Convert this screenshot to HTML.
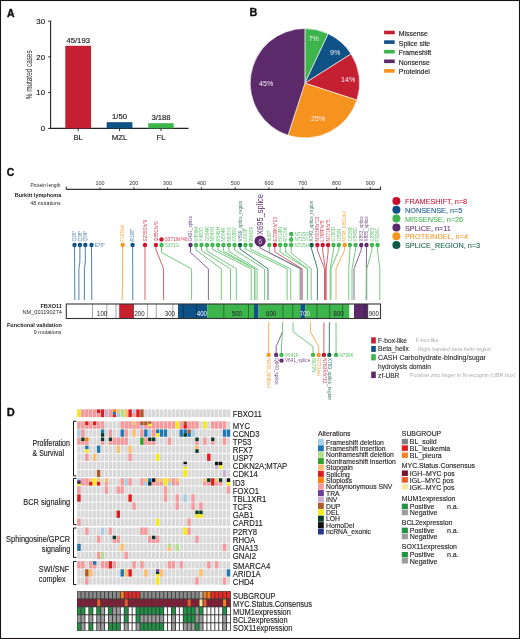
<!DOCTYPE html>
<html><head><meta charset="utf-8"><title>FBXO11 figure</title>
<style>
html,body{margin:0;padding:0;background:#fff;}
body{width:520px;height:639px;overflow:hidden;}
svg{display:block;font-family:"Liberation Sans", sans-serif;will-change:transform;}
</style></head><body>
<svg width="520" height="639" viewBox="0 0 520 639">
<rect x="0" y="0" width="520" height="639" fill="#fff"/>
<text x="7.10" y="16.68" font-size="11.400" fill="#111" font-weight="bold" transform="translate(7.10 0) scale(0.9200 1) translate(-7.10 0)" stroke="#111" stroke-width="0.45">A</text>
<line x1="50.60" y1="20.82" x2="50.60" y2="128.90" stroke="#222" stroke-width="1.1"/>
<line x1="50.10" y1="128.40" x2="188.50" y2="128.40" stroke="#222" stroke-width="1.1"/>
<line x1="48.20" y1="128.40" x2="50.60" y2="128.40" stroke="#222" stroke-width="1"/>
<text x="45.00" y="131.19" font-size="7.800" text-anchor="end" fill="#231f20" stroke="#231f20" stroke-width="0.18">0</text>
<line x1="48.20" y1="92.64" x2="50.60" y2="92.64" stroke="#222" stroke-width="1"/>
<text x="45.00" y="95.43" font-size="7.800" text-anchor="end" fill="#231f20" stroke="#231f20" stroke-width="0.18">10</text>
<line x1="48.20" y1="56.88" x2="50.60" y2="56.88" stroke="#222" stroke-width="1"/>
<text x="45.00" y="59.67" font-size="7.800" text-anchor="end" fill="#231f20" stroke="#231f20" stroke-width="0.18">20</text>
<line x1="48.20" y1="21.12" x2="50.60" y2="21.12" stroke="#222" stroke-width="1"/>
<text x="45.00" y="23.91" font-size="7.800" text-anchor="end" fill="#231f20" stroke="#231f20" stroke-width="0.18">30</text>
<rect x="65.30" y="45.79" width="25.80" height="82.61" fill="#c42032"/>
<line x1="78.20" y1="128.40" x2="78.20" y2="131.20" stroke="#222" stroke-width="0.9"/>
<text x="78.20" y="42.95" font-size="7.700" text-anchor="middle" fill="#231f20" stroke="#231f20" stroke-width="0.18">45/193</text>
<text x="78.20" y="139.89" font-size="7.800" text-anchor="middle" fill="#231f20" stroke="#231f20" stroke-width="0.18">BL</text>
<rect x="106.70" y="122.18" width="25.70" height="6.22" fill="#0f5286"/>
<line x1="119.50" y1="128.40" x2="119.50" y2="131.20" stroke="#222" stroke-width="0.9"/>
<text x="119.50" y="119.33" font-size="7.700" text-anchor="middle" fill="#231f20" stroke="#231f20" stroke-width="0.18">1/50</text>
<text x="119.50" y="139.89" font-size="7.800" text-anchor="middle" fill="#231f20" stroke="#231f20" stroke-width="0.18">MZL</text>
<rect x="148.20" y="123.21" width="25.50" height="5.19" fill="#3db44c"/>
<line x1="161.00" y1="128.40" x2="161.00" y2="131.20" stroke="#222" stroke-width="0.9"/>
<text x="161.00" y="120.37" font-size="7.700" text-anchor="middle" fill="#231f20" stroke="#231f20" stroke-width="0.18">3/188</text>
<text x="161.00" y="139.89" font-size="7.800" text-anchor="middle" fill="#231f20" stroke="#231f20" stroke-width="0.18">FL</text>
<text x="32.00" y="74.80" font-size="8.600" text-anchor="middle" fill="#231f20" transform="rotate(-90 32.00 74.80)" textLength="48.8" lengthAdjust="spacingAndGlyphs">% mutated cases</text>
<text x="249.60" y="16.48" font-size="11.400" fill="#111" font-weight="bold" transform="translate(249.60 0) scale(0.9500 1) translate(-249.60 0)" stroke="#111" stroke-width="0.35">B</text>
<path d="M304.9,83.2 L304.90,28.50 A54.7,54.7 0 0 1 328.19,33.71 Z" fill="#3db44c" stroke="#fff" stroke-width="0.6" stroke-linejoin="round"/>
<path d="M304.9,83.2 L328.19,33.71 A54.7,54.7 0 0 1 351.08,53.89 Z" fill="#0f5286" stroke="#fff" stroke-width="0.6" stroke-linejoin="round"/>
<path d="M304.9,83.2 L351.08,53.89 A54.7,54.7 0 0 1 356.92,100.10 Z" fill="#c42032" stroke="#fff" stroke-width="0.6" stroke-linejoin="round"/>
<path d="M304.9,83.2 L356.92,100.10 A54.7,54.7 0 0 1 288.00,135.22 Z" fill="#f6921e" stroke="#fff" stroke-width="0.6" stroke-linejoin="round"/>
<path d="M304.9,83.2 L288.00,135.22 A54.7,54.7 0 0 1 304.90,28.50 Z" fill="#5c2a6a" stroke="#fff" stroke-width="0.6" stroke-linejoin="round"/>
<text x="313.80" y="40.65" font-size="7.668" text-anchor="middle" fill="#f6f2f6" transform="translate(313.80 0) scale(0.9259 1) translate(-313.80 0)" stroke="none">7%</text>
<text x="335.20" y="54.65" font-size="7.668" text-anchor="middle" fill="#f6f2f6" transform="translate(335.20 0) scale(0.9259 1) translate(-335.20 0)" stroke="none">9%</text>
<text x="348.20" y="81.95" font-size="7.668" text-anchor="middle" fill="#f6f2f6" transform="translate(348.20 0) scale(0.9259 1) translate(-348.20 0)" stroke="none">14%</text>
<text x="318.20" y="121.15" font-size="7.668" text-anchor="middle" fill="#f6f2f6" transform="translate(318.20 0) scale(0.9259 1) translate(-318.20 0)" stroke="none">25%</text>
<text x="266.20" y="86.45" font-size="7.668" text-anchor="middle" fill="#f6f2f6" transform="translate(266.20 0) scale(0.9259 1) translate(-266.20 0)" stroke="none">45%</text>
<rect x="384.10" y="30.70" width="10.60" height="3.60" fill="#c42032"/>
<text x="398.80" y="36.02" font-size="7.866" fill="#231f20" transform="translate(398.80 0) scale(0.8772 1) translate(-398.80 0)" stroke="#231f20" stroke-width="0.18">Missense</text>
<rect x="384.10" y="40.30" width="10.60" height="3.60" fill="#0f5286"/>
<text x="398.80" y="45.62" font-size="7.866" fill="#231f20" transform="translate(398.80 0) scale(0.8772 1) translate(-398.80 0)" stroke="#231f20" stroke-width="0.18">Splice site</text>
<rect x="384.10" y="49.90" width="10.60" height="3.60" fill="#3db44c"/>
<text x="398.80" y="55.22" font-size="7.866" fill="#231f20" transform="translate(398.80 0) scale(0.8772 1) translate(-398.80 0)" stroke="#231f20" stroke-width="0.18">Frameshift</text>
<rect x="384.10" y="59.50" width="10.60" height="3.60" fill="#5c2a6a"/>
<text x="398.80" y="64.82" font-size="7.866" fill="#231f20" transform="translate(398.80 0) scale(0.8772 1) translate(-398.80 0)" stroke="#231f20" stroke-width="0.18">Nonsense</text>
<rect x="384.10" y="69.10" width="10.60" height="3.60" fill="#f6921e"/>
<text x="398.80" y="74.42" font-size="7.866" fill="#231f20" transform="translate(398.80 0) scale(0.8772 1) translate(-398.80 0)" stroke="#231f20" stroke-width="0.18">Proteindel</text>
<text x="6.80" y="176.35" font-size="11.600" fill="#111" font-weight="bold" transform="translate(6.80 0) scale(0.9000 1) translate(-6.80 0)" stroke="#111" stroke-width="0.4">C</text>
<text x="60.60" y="187.29" font-size="5.292" text-anchor="end" fill="#2a2a2a" transform="translate(60.60 0) scale(0.9259 1) translate(-60.60 0)">Protein length</text>
<line x1="66.30" y1="189.40" x2="380.60" y2="189.40" stroke="#333" stroke-width="1.1"/>
<line x1="66.30" y1="186.40" x2="66.30" y2="189.90" stroke="#333" stroke-width="1.0"/>
<line x1="380.60" y1="186.40" x2="380.60" y2="189.90" stroke="#333" stroke-width="1.0"/>
<line x1="100.07" y1="187.20" x2="100.07" y2="189.40" stroke="#333" stroke-width="0.9"/>
<text x="100.07" y="185.23" font-size="5.400" text-anchor="middle" fill="#333">100</text>
<line x1="133.85" y1="187.20" x2="133.85" y2="189.40" stroke="#333" stroke-width="0.9"/>
<text x="133.85" y="185.23" font-size="5.400" text-anchor="middle" fill="#333">200</text>
<line x1="167.62" y1="187.20" x2="167.62" y2="189.40" stroke="#333" stroke-width="0.9"/>
<text x="167.62" y="185.23" font-size="5.400" text-anchor="middle" fill="#333">300</text>
<line x1="201.40" y1="187.20" x2="201.40" y2="189.40" stroke="#333" stroke-width="0.9"/>
<text x="201.40" y="185.23" font-size="5.400" text-anchor="middle" fill="#333">400</text>
<line x1="235.18" y1="187.20" x2="235.18" y2="189.40" stroke="#333" stroke-width="0.9"/>
<text x="235.18" y="185.23" font-size="5.400" text-anchor="middle" fill="#333">500</text>
<line x1="268.95" y1="187.20" x2="268.95" y2="189.40" stroke="#333" stroke-width="0.9"/>
<text x="268.95" y="185.23" font-size="5.400" text-anchor="middle" fill="#333">600</text>
<line x1="302.72" y1="187.20" x2="302.72" y2="189.40" stroke="#333" stroke-width="0.9"/>
<text x="302.72" y="185.23" font-size="5.400" text-anchor="middle" fill="#333">700</text>
<line x1="336.50" y1="187.20" x2="336.50" y2="189.40" stroke="#333" stroke-width="0.9"/>
<text x="336.50" y="185.23" font-size="5.400" text-anchor="middle" fill="#333">800</text>
<line x1="370.28" y1="187.20" x2="370.28" y2="189.40" stroke="#333" stroke-width="0.9"/>
<text x="370.28" y="185.23" font-size="5.400" text-anchor="middle" fill="#333">900</text>
<text x="61.30" y="197.17" font-size="6.050" text-anchor="end" fill="#222" font-weight="bold" transform="translate(61.30 0) scale(0.9091 1) translate(-61.30 0)">Burkitt lymphoma</text>
<text x="60.60" y="205.09" font-size="5.830" text-anchor="end" fill="#2a2a2a" transform="translate(60.60 0) scale(0.9091 1) translate(-60.60 0)">48 mutations</text>
<path d="M74.50,245.00 L74.80,300.00" fill="none" stroke="#4d82b5" stroke-width="1.0"/>
<path d="M79.90,245.00 L79.90,262.00 L78.90,268.80 L78.90,300.00" fill="none" stroke="#4d82b5" stroke-width="1.0"/>
<path d="M85.30,245.00 L85.30,262.00 L84.40,268.80 L84.40,300.00" fill="none" stroke="#4d82b5" stroke-width="1.0"/>
<path d="M91.50,245.00 L91.80,300.00" fill="none" stroke="#4d82b5" stroke-width="1.0"/>
<path d="M122.70,245.00 L122.30,300.00" fill="none" stroke="#f8ae5a" stroke-width="1.0"/>
<path d="M132.60,245.00 L132.80,300.00" fill="none" stroke="#4d82b5" stroke-width="1.0"/>
<path d="M145.00,245.00 L145.00,300.00" fill="none" stroke="#d9606f" stroke-width="1.0"/>
<path d="M155.90,245.00 L155.90,249.50 L163.60,268.80 L163.60,300.00" fill="none" stroke="#d9606f" stroke-width="1.0"/>
<path d="M161.50,245.00 L161.50,252.50 L191.60,268.80 L191.60,300.00" fill="none" stroke="#74ca7e" stroke-width="1.0"/>
<path d="M190.50,245.00 L190.50,252.50 L208.40,268.80 L208.40,300.00" fill="none" stroke="#8a6498" stroke-width="1.0"/>
<path d="M196.00,245.00 L196.00,250.00 L221.30,268.80 L221.30,300.00" fill="none" stroke="#74ca7e" stroke-width="1.0"/>
<path d="M201.50,245.00 L201.50,250.50 L230.50,268.80 L230.50,300.00" fill="none" stroke="#74ca7e" stroke-width="1.0"/>
<path d="M207.00,245.00 L207.00,251.00 L236.30,268.80 L236.30,300.00" fill="none" stroke="#74ca7e" stroke-width="1.0"/>
<path d="M212.50,245.00 L212.50,249.50 L251.20,268.80 L251.20,300.00" fill="none" stroke="#74ca7e" stroke-width="1.0"/>
<path d="M218.00,245.00 L218.00,250.00 L254.70,268.80 L254.70,300.00" fill="none" stroke="#74ca7e" stroke-width="1.0"/>
<path d="M223.40,245.00 L223.40,251.00 L254.90,268.80 L254.90,300.00" fill="none" stroke="#74ca7e" stroke-width="1.0"/>
<path d="M228.90,245.00 L228.90,251.50 L257.10,268.80 L257.10,300.00" fill="none" stroke="#74ca7e" stroke-width="1.0"/>
<path d="M234.50,245.00 L234.50,250.00 L264.60,268.80 L264.60,300.00" fill="none" stroke="#74ca7e" stroke-width="1.0"/>
<path d="M240.00,245.00 L240.00,249.00 L268.00,268.80 L268.00,300.00" fill="none" stroke="#3f8070" stroke-width="1.0"/>
<path d="M245.40,245.00 L245.40,249.00 L287.10,268.80 L287.10,300.00" fill="none" stroke="#74ca7e" stroke-width="1.0"/>
<path d="M250.90,245.00 L250.90,249.50 L290.80,268.80 L290.80,300.00" fill="none" stroke="#74ca7e" stroke-width="1.0"/>
<path d="M269.30,245.00 L269.30,253.00 L300.00,268.80 L300.00,300.00" fill="none" stroke="#74ca7e" stroke-width="1.0"/>
<path d="M274.90,245.00 L274.90,252.00 L302.20,268.80 L302.20,300.00" fill="none" stroke="#d9606f" stroke-width="1.0"/>
<path d="M280.10,245.00 L280.10,252.00 L307.40,268.80 L307.40,300.00" fill="none" stroke="#74ca7e" stroke-width="1.0"/>
<path d="M285.60,245.00 L285.60,252.50 L307.60,268.80 L307.60,300.00" fill="none" stroke="#74ca7e" stroke-width="1.0"/>
<path d="M291.20,245.00 L291.20,253.00 L311.20,268.80 L311.20,300.00" fill="none" stroke="#74ca7e" stroke-width="1.0"/>
<path d="M311.60,245.00 L311.60,249.00 L317.40,268.80 L317.40,300.00" fill="none" stroke="#3f8070" stroke-width="1.0"/>
<path d="M317.30,245.00 L317.30,250.00 L324.50,268.80 L324.50,300.00" fill="none" stroke="#d9606f" stroke-width="1.0"/>
<path d="M322.70,245.00 L322.70,251.00 L325.40,268.80 L325.40,300.00" fill="none" stroke="#d9606f" stroke-width="1.0"/>
<path d="M328.10,245.00 L328.10,252.00 L326.20,268.80 L326.20,300.00" fill="none" stroke="#d9606f" stroke-width="1.0"/>
<path d="M333.50,245.00 L333.50,250.00 L330.20,268.80 L330.20,300.00" fill="none" stroke="#74ca7e" stroke-width="1.0"/>
<path d="M338.80,245.00 L338.80,250.00 L331.00,268.80 L331.00,300.00" fill="none" stroke="#74ca7e" stroke-width="1.0"/>
<path d="M344.70,245.00 L344.70,250.00 L336.00,268.80 L336.00,300.00" fill="none" stroke="#f8ae5a" stroke-width="1.0"/>
<path d="M349.90,245.00 L349.90,250.00 L348.80,268.80 L348.80,300.00" fill="none" stroke="#74ca7e" stroke-width="1.0"/>
<path d="M355.50,245.00 L355.50,250.00 L352.00,268.80 L352.00,300.00" fill="none" stroke="#74ca7e" stroke-width="1.0"/>
<path d="M361.20,245.00 L361.20,250.00 L354.00,268.80 L354.00,300.00" fill="none" stroke="#8a6498" stroke-width="1.0"/>
<path d="M366.50,245.00 L366.20,300.00" fill="none" stroke="#8a6498" stroke-width="1.0"/>
<path d="M371.90,245.00 L371.90,250.00 L366.80,268.80 L366.80,300.00" fill="none" stroke="#74ca7e" stroke-width="1.0"/>
<path d="M377.60,245.00 L377.60,251.00 L379.80,268.80 L379.80,300.00" fill="none" stroke="#74ca7e" stroke-width="1.0"/>
<path d="M291.2,234.0 L291.2,245.0" stroke="#74ca7e" stroke-width="1.0"/>
<path d="M260.1,241.2 L260.1,248 L301.0,268.8 L301.0,300.0" fill="none" stroke="#8a6498" stroke-width="1.0"/>
<circle cx="74.50" cy="245.00" r="2.20" fill="#0b4f8a"/>
<text x="74.50" y="245.80" font-size="2.400" text-anchor="middle" fill="rgba(255,255,255,0.35)">1</text>
<text x="76.30" y="241.40" font-size="5.250" fill="#4d80b4" transform="rotate(-90 76.30 241.40) translate(76.30 0) scale(0.8800 1) translate(-76.30 0)">Q26*</text>
<circle cx="79.90" cy="245.00" r="2.20" fill="#0b4f8a"/>
<text x="79.90" y="245.80" font-size="2.400" text-anchor="middle" fill="rgba(255,255,255,0.35)">1</text>
<text x="81.70" y="241.40" font-size="5.250" fill="#4d80b4" transform="rotate(-90 81.70 241.40) translate(81.70 0) scale(0.8800 1) translate(-81.70 0)">Q38*</text>
<circle cx="85.30" cy="245.00" r="2.20" fill="#0b4f8a"/>
<text x="85.30" y="245.80" font-size="2.400" text-anchor="middle" fill="rgba(255,255,255,0.35)">1</text>
<text x="87.10" y="241.40" font-size="5.250" fill="#4d80b4" transform="rotate(-90 87.10 241.40) translate(87.10 0) scale(0.8800 1) translate(-87.10 0)">Q54*</text>
<circle cx="91.50" cy="245.00" r="2.20" fill="#0b4f8a"/>
<text x="91.50" y="245.80" font-size="2.400" text-anchor="middle" fill="rgba(255,255,255,0.35)">1</text>
<text x="94.70" y="246.86" font-size="5.200" fill="#4d80b4" transform="translate(94.70 0) scale(0.9000 1) translate(-94.70 0)">E76*</text>
<circle cx="122.70" cy="245.00" r="2.20" fill="#f7941d"/>
<text x="122.70" y="245.80" font-size="2.400" text-anchor="middle" fill="rgba(255,255,255,0.35)">1</text>
<text x="124.50" y="241.40" font-size="5.250" fill="#f7a440" transform="rotate(-90 124.50 241.40) translate(124.50 0) scale(0.8800 1) translate(-124.50 0)">F165del</text>
<circle cx="132.60" cy="245.00" r="2.20" fill="#0b4f8a"/>
<text x="132.60" y="245.80" font-size="2.400" text-anchor="middle" fill="rgba(255,255,255,0.35)">1</text>
<text x="134.40" y="241.40" font-size="5.250" fill="#4d80b4" transform="rotate(-90 134.40 241.40) translate(134.40 0) scale(0.8800 1) translate(-134.40 0)">R198*</text>
<circle cx="145.00" cy="245.00" r="2.20" fill="#c8102e"/>
<text x="145.00" y="245.80" font-size="2.400" text-anchor="middle" fill="rgba(255,255,255,0.35)">1</text>
<text x="146.80" y="241.40" font-size="5.250" fill="#d23a52" transform="rotate(-90 146.80 241.40) translate(146.80 0) scale(0.8800 1) translate(-146.80 0)">S235Sfs*9</text>
<circle cx="155.90" cy="245.00" r="2.20" fill="#c8102e"/>
<text x="155.90" y="245.80" font-size="2.400" text-anchor="middle" fill="rgba(255,255,255,0.35)">1</text>
<text x="157.70" y="241.40" font-size="5.250" fill="#d23a52" transform="rotate(-90 157.70 241.40) translate(157.70 0) scale(0.8800 1) translate(-157.70 0)">I288Cfs*9</text>
<circle cx="161.50" cy="239.40" r="2.20" fill="#c8102e"/>
<text x="161.50" y="240.20" font-size="2.400" text-anchor="middle" fill="rgba(255,255,255,0.35)">1</text>
<text x="164.70" y="241.26" font-size="5.200" fill="#d23a52" transform="translate(164.70 0) scale(0.9000 1) translate(-164.70 0)">S371Ifs*46</text>
<circle cx="161.50" cy="245.00" r="2.20" fill="#3db44c"/>
<text x="161.50" y="245.80" font-size="2.400" text-anchor="middle" fill="rgba(255,255,255,0.35)">1</text>
<text x="164.70" y="246.86" font-size="5.200" fill="#62c26c" transform="translate(164.70 0) scale(0.9000 1) translate(-164.70 0)">S371G</text>
<circle cx="190.50" cy="245.00" r="2.20" fill="#5c2a6a"/>
<text x="190.50" y="245.80" font-size="2.400" text-anchor="middle" fill="rgba(255,255,255,0.35)">1</text>
<text x="192.30" y="241.40" font-size="5.250" fill="#74508a" transform="rotate(-90 192.30 241.40) translate(192.30 0) scale(0.8800 1) translate(-192.30 0)">G421_splice</text>
<circle cx="196.00" cy="245.00" r="2.20" fill="#3db44c"/>
<text x="196.00" y="245.80" font-size="2.400" text-anchor="middle" fill="rgba(255,255,255,0.35)">1</text>
<text x="197.80" y="241.40" font-size="5.250" fill="#62c26c" transform="rotate(-90 197.80 241.40) translate(197.80 0) scale(0.8800 1) translate(-197.80 0)">V459M</text>
<circle cx="201.50" cy="245.00" r="2.20" fill="#3db44c"/>
<text x="201.50" y="245.80" font-size="2.400" text-anchor="middle" fill="rgba(255,255,255,0.35)">1</text>
<text x="203.30" y="241.40" font-size="5.250" fill="#62c26c" transform="rotate(-90 203.30 241.40) translate(203.30 0) scale(0.8800 1) translate(-203.30 0)">Y487D</text>
<circle cx="207.00" cy="245.00" r="2.20" fill="#3db44c"/>
<text x="207.00" y="245.80" font-size="2.400" text-anchor="middle" fill="rgba(255,255,255,0.35)">1</text>
<text x="208.80" y="241.40" font-size="5.250" fill="#62c26c" transform="rotate(-90 208.80 241.40) translate(208.80 0) scale(0.8800 1) translate(-208.80 0)">G504R</text>
<circle cx="212.50" cy="245.00" r="2.20" fill="#3db44c"/>
<text x="212.50" y="245.80" font-size="2.400" text-anchor="middle" fill="rgba(255,255,255,0.35)">1</text>
<text x="214.30" y="241.40" font-size="5.250" fill="#62c26c" transform="rotate(-90 214.30 241.40) translate(214.30 0) scale(0.8800 1) translate(-214.30 0)">N547H</text>
<circle cx="218.00" cy="245.00" r="2.20" fill="#3db44c"/>
<text x="218.00" y="245.80" font-size="2.400" text-anchor="middle" fill="rgba(255,255,255,0.35)">1</text>
<text x="219.80" y="241.40" font-size="5.250" fill="#62c26c" transform="rotate(-90 219.80 241.40) translate(219.80 0) scale(0.8800 1) translate(-219.80 0)">R549H</text>
<circle cx="223.40" cy="245.00" r="2.20" fill="#3db44c"/>
<text x="223.40" y="245.80" font-size="2.400" text-anchor="middle" fill="rgba(255,255,255,0.35)">1</text>
<text x="225.20" y="241.40" font-size="5.250" fill="#62c26c" transform="rotate(-90 225.20 241.40) translate(225.20 0) scale(0.8800 1) translate(-225.20 0)">N564K</text>
<circle cx="228.90" cy="245.00" r="2.20" fill="#3db44c"/>
<text x="228.90" y="245.80" font-size="2.400" text-anchor="middle" fill="rgba(255,255,255,0.35)">1</text>
<text x="230.70" y="241.40" font-size="5.250" fill="#62c26c" transform="rotate(-90 230.70 241.40) translate(230.70 0) scale(0.8800 1) translate(-230.70 0)">N587S</text>
<circle cx="234.50" cy="245.00" r="2.20" fill="#3db44c"/>
<text x="234.50" y="245.80" font-size="2.400" text-anchor="middle" fill="rgba(255,255,255,0.35)">1</text>
<text x="236.30" y="241.40" font-size="5.250" fill="#62c26c" transform="rotate(-90 236.30 241.40) translate(236.30 0) scale(0.8800 1) translate(-236.30 0)">G589V</text>
<circle cx="240.00" cy="245.00" r="2.20" fill="#0d5c45"/>
<text x="240.00" y="245.80" font-size="2.400" text-anchor="middle" fill="rgba(255,255,255,0.35)">1</text>
<text x="241.80" y="241.40" font-size="5.250" fill="#367868" transform="rotate(-90 241.80 241.40) translate(241.80 0) scale(0.8800 1) translate(-241.80 0)">V599_splice_region</text>
<circle cx="245.40" cy="245.00" r="2.20" fill="#3db44c"/>
<text x="245.40" y="245.80" font-size="2.400" text-anchor="middle" fill="rgba(255,255,255,0.35)">1</text>
<text x="247.20" y="241.40" font-size="5.250" fill="#62c26c" transform="rotate(-90 247.20 241.40) translate(247.20 0) scale(0.8800 1) translate(-247.20 0)">L603P</text>
<circle cx="250.90" cy="245.00" r="2.20" fill="#3db44c"/>
<text x="250.90" y="245.80" font-size="2.400" text-anchor="middle" fill="rgba(255,255,255,0.35)">1</text>
<text x="252.70" y="241.40" font-size="5.250" fill="#62c26c" transform="rotate(-90 252.70 241.40) translate(252.70 0) scale(0.8800 1) translate(-252.70 0)">W669F</text>
<circle cx="269.30" cy="245.00" r="2.20" fill="#3db44c"/>
<text x="269.30" y="245.80" font-size="2.400" text-anchor="middle" fill="rgba(255,255,255,0.35)">1</text>
<text x="271.10" y="241.40" font-size="5.250" fill="#62c26c" transform="rotate(-90 271.10 241.40) translate(271.10 0) scale(0.8800 1) translate(-271.10 0)">I690T</text>
<circle cx="274.90" cy="245.00" r="2.20" fill="#c8102e"/>
<text x="274.90" y="245.80" font-size="2.400" text-anchor="middle" fill="rgba(255,255,255,0.35)">1</text>
<text x="276.70" y="241.40" font-size="5.250" fill="#d23a52" transform="rotate(-90 276.70 241.40) translate(276.70 0) scale(0.8800 1) translate(-276.70 0)">E700Kfs*23</text>
<circle cx="280.10" cy="245.00" r="2.20" fill="#3db44c"/>
<text x="280.10" y="245.80" font-size="2.400" text-anchor="middle" fill="rgba(255,255,255,0.35)">1</text>
<text x="281.90" y="241.40" font-size="5.250" fill="#62c26c" transform="rotate(-90 281.90 241.40) translate(281.90 0) scale(0.8800 1) translate(-281.90 0)">H714N</text>
<circle cx="285.60" cy="245.00" r="2.20" fill="#3db44c"/>
<text x="285.60" y="245.80" font-size="2.400" text-anchor="middle" fill="rgba(255,255,255,0.35)">1</text>
<text x="287.40" y="241.40" font-size="5.250" fill="#62c26c" transform="rotate(-90 287.40 241.40) translate(287.40 0) scale(0.8800 1) translate(-287.40 0)">R715K</text>
<circle cx="291.20" cy="245.00" r="2.20" fill="#3db44c"/>
<text x="291.20" y="245.80" font-size="2.400" text-anchor="middle" fill="rgba(255,255,255,0.35)">1</text>
<text x="294.40" y="246.86" font-size="5.200" fill="#62c26c" transform="translate(294.40 0) scale(0.9000 1) translate(-294.40 0)">N725H</text>
<circle cx="291.20" cy="239.50" r="2.20" fill="#3db44c"/>
<text x="291.20" y="240.30" font-size="2.400" text-anchor="middle" fill="rgba(255,255,255,0.35)">1</text>
<text x="294.40" y="241.36" font-size="5.200" fill="#62c26c" transform="translate(294.40 0) scale(0.9000 1) translate(-294.40 0)">N725Y</text>
<circle cx="291.20" cy="234.00" r="2.20" fill="#3db44c"/>
<text x="291.20" y="234.80" font-size="2.400" text-anchor="middle" fill="rgba(255,255,255,0.35)">1</text>
<text x="294.40" y="235.86" font-size="5.200" fill="#62c26c" transform="translate(294.40 0) scale(0.9000 1) translate(-294.40 0)">N725D</text>
<circle cx="311.60" cy="245.00" r="2.20" fill="#0d5c45"/>
<text x="311.60" y="245.80" font-size="2.400" text-anchor="middle" fill="rgba(255,255,255,0.35)">1</text>
<text x="313.40" y="241.40" font-size="5.250" fill="#367868" transform="rotate(-90 313.40 241.40) translate(313.40 0) scale(0.8800 1) translate(-313.40 0)">X743_splice_region</text>
<circle cx="317.30" cy="245.00" r="2.20" fill="#c8102e"/>
<text x="317.30" y="245.80" font-size="2.400" text-anchor="middle" fill="rgba(255,255,255,0.35)">1</text>
<text x="319.10" y="241.40" font-size="5.250" fill="#d23a52" transform="rotate(-90 319.10 241.40) translate(319.10 0) scale(0.8800 1) translate(-319.10 0)">N763Kfs*12</text>
<circle cx="322.70" cy="245.00" r="2.20" fill="#c8102e"/>
<text x="322.70" y="245.80" font-size="2.400" text-anchor="middle" fill="rgba(255,255,255,0.35)">1</text>
<text x="324.50" y="241.40" font-size="5.250" fill="#d23a52" transform="rotate(-90 324.50 241.40) translate(324.50 0) scale(0.8800 1) translate(-324.50 0)">L768Ffs*8</text>
<circle cx="328.10" cy="245.00" r="2.20" fill="#c8102e"/>
<text x="328.10" y="245.80" font-size="2.400" text-anchor="middle" fill="rgba(255,255,255,0.35)">1</text>
<text x="329.90" y="241.40" font-size="5.250" fill="#d23a52" transform="rotate(-90 329.90 241.40) translate(329.90 0) scale(0.8800 1) translate(-329.90 0)">N771Kfs*5</text>
<circle cx="333.50" cy="245.00" r="2.20" fill="#3db44c"/>
<text x="333.50" y="245.80" font-size="2.400" text-anchor="middle" fill="rgba(255,255,255,0.35)">1</text>
<text x="335.30" y="241.40" font-size="5.250" fill="#62c26c" transform="rotate(-90 335.30 241.40) translate(335.30 0) scale(0.8800 1) translate(-335.30 0)">G780D</text>
<circle cx="338.80" cy="245.00" r="2.20" fill="#3db44c"/>
<text x="338.80" y="245.80" font-size="2.400" text-anchor="middle" fill="rgba(255,255,255,0.35)">1</text>
<text x="340.60" y="241.40" font-size="5.250" fill="#62c26c" transform="rotate(-90 340.60 241.40) translate(340.60 0) scale(0.8800 1) translate(-340.60 0)">I783N</text>
<circle cx="344.70" cy="245.00" r="2.20" fill="#f7941d"/>
<text x="344.70" y="245.80" font-size="2.400" text-anchor="middle" fill="rgba(255,255,255,0.35)">1</text>
<text x="346.50" y="241.40" font-size="5.250" fill="#f7a440" transform="rotate(-90 346.50 241.40) translate(346.50 0) scale(0.8800 1) translate(-346.50 0)">N798_F801del</text>
<circle cx="349.90" cy="245.00" r="2.20" fill="#3db44c"/>
<text x="349.90" y="245.80" font-size="2.400" text-anchor="middle" fill="rgba(255,255,255,0.35)">1</text>
<text x="351.70" y="241.40" font-size="5.250" fill="#62c26c" transform="rotate(-90 351.70 241.40) translate(351.70 0) scale(0.8800 1) translate(-351.70 0)">C835R</text>
<circle cx="355.50" cy="245.00" r="2.20" fill="#3db44c"/>
<text x="355.50" y="245.80" font-size="2.400" text-anchor="middle" fill="rgba(255,255,255,0.35)">1</text>
<text x="357.30" y="241.40" font-size="5.250" fill="#62c26c" transform="rotate(-90 357.30 241.40) translate(357.30 0) scale(0.8800 1) translate(-357.30 0)">Y845D</text>
<circle cx="361.20" cy="245.00" r="2.20" fill="#5c2a6a"/>
<text x="361.20" y="245.80" font-size="2.400" text-anchor="middle" fill="rgba(255,255,255,0.35)">1</text>
<text x="363.00" y="241.40" font-size="5.250" fill="#74508a" transform="rotate(-90 363.00 241.40) translate(363.00 0) scale(0.8800 1) translate(-363.00 0)">X853_splice</text>
<circle cx="366.50" cy="245.00" r="2.20" fill="#5c2a6a"/>
<text x="366.50" y="245.80" font-size="2.400" text-anchor="middle" fill="rgba(255,255,255,0.35)">1</text>
<text x="368.30" y="241.40" font-size="5.250" fill="#74508a" transform="rotate(-90 368.30 241.40) translate(368.30 0) scale(0.8800 1) translate(-368.30 0)">X885_splice</text>
<circle cx="371.90" cy="245.00" r="2.20" fill="#3db44c"/>
<text x="371.90" y="245.80" font-size="2.400" text-anchor="middle" fill="rgba(255,255,255,0.35)">1</text>
<text x="373.70" y="241.40" font-size="5.250" fill="#62c26c" transform="rotate(-90 373.70 241.40) translate(373.70 0) scale(0.8800 1) translate(-373.70 0)">C886S</text>
<circle cx="377.60" cy="245.00" r="2.20" fill="#3db44c"/>
<text x="377.60" y="245.80" font-size="2.400" text-anchor="middle" fill="rgba(255,255,255,0.35)">1</text>
<text x="379.40" y="241.40" font-size="5.250" fill="#62c26c" transform="rotate(-90 379.40 241.40) translate(379.40 0) scale(0.8800 1) translate(-379.40 0)">F926C</text>
<circle cx="260.10" cy="241.15" r="5.60" fill="#5c2a6a"/>
<text x="260.20" y="244.06" font-size="8.000" text-anchor="middle" fill="#ddd0e4" transform="translate(260.20 0) scale(0.9200 1) translate(-260.20 0)" stroke="none">6</text>
<text x="263.40" y="234.90" font-size="8.500" fill="#5c2a6a" transform="rotate(-90 263.40 234.90) translate(263.40 0) scale(0.8850 1) translate(-263.40 0)">X695_splice</text>
<circle cx="396.40" cy="201.05" r="4.00" fill="#c8102e"/>
<text x="405.00" y="204.20" font-size="7.811" fill="#c8102e" transform="translate(405.00 0) scale(0.9346 1) translate(-405.00 0)" stroke="#c8102e" stroke-width="0.06">FRAMESHIFT, n=8</text>
<circle cx="396.40" cy="209.83" r="4.00" fill="#0b4f8a"/>
<text x="405.00" y="212.98" font-size="7.811" fill="#0b4f8a" transform="translate(405.00 0) scale(0.9346 1) translate(-405.00 0)" stroke="#0b4f8a" stroke-width="0.06">NONSENSE, n=5</text>
<circle cx="396.40" cy="218.61" r="4.00" fill="#3db44c"/>
<text x="405.00" y="221.76" font-size="7.811" fill="#3db44c" transform="translate(405.00 0) scale(0.9346 1) translate(-405.00 0)" stroke="#3db44c" stroke-width="0.06">MISSENSE, n=26</text>
<circle cx="396.40" cy="227.39" r="4.00" fill="#5c2a6a"/>
<text x="405.00" y="230.54" font-size="7.811" fill="#5c2a6a" transform="translate(405.00 0) scale(0.9346 1) translate(-405.00 0)" stroke="#5c2a6a" stroke-width="0.06">SPLICE, n=11</text>
<circle cx="396.40" cy="236.17" r="4.00" fill="#f7941d"/>
<text x="405.00" y="239.32" font-size="7.811" fill="#f7941d" transform="translate(405.00 0) scale(0.9346 1) translate(-405.00 0)" stroke="#f7941d" stroke-width="0.06">PROTEINDEL, n=4</text>
<circle cx="396.40" cy="244.95" r="4.00" fill="#0d5c45"/>
<text x="405.00" y="248.10" font-size="7.811" fill="#0d5c45" transform="translate(405.00 0) scale(0.9346 1) translate(-405.00 0)" stroke="#0d5c45" stroke-width="0.06">SPLICE_REGION, n=3</text>
<rect x="66.30" y="304.00" width="314.20" height="14.50" fill="#fff"/>
<rect x="119.20" y="304.00" width="14.40" height="14.50" fill="#c8202f"/>
<rect x="178.00" y="304.00" width="29.40" height="14.50" fill="#0f5286"/>
<rect x="207.40" y="304.00" width="46.60" height="14.50" fill="#3db44c"/>
<rect x="254.00" y="304.00" width="4.60" height="14.50" fill="#0f5286"/>
<rect x="258.60" y="304.00" width="41.70" height="14.50" fill="#3db44c"/>
<rect x="300.30" y="304.00" width="5.10" height="14.50" fill="#0f5286"/>
<rect x="305.40" y="304.00" width="43.90" height="14.50" fill="#3db44c"/>
<rect x="354.00" y="304.00" width="13.80" height="14.50" fill="#5c2a6a"/>
<line x1="92.50" y1="304.00" x2="92.50" y2="318.50" stroke="rgba(0,0,0,0.45)" stroke-width="0.8"/>
<line x1="106.80" y1="304.00" x2="106.80" y2="318.50" stroke="rgba(0,0,0,0.45)" stroke-width="0.8"/>
<line x1="116.00" y1="304.00" x2="116.00" y2="318.50" stroke="rgba(0,0,0,0.45)" stroke-width="0.8"/>
<line x1="147.60" y1="304.00" x2="147.60" y2="318.50" stroke="rgba(0,0,0,0.45)" stroke-width="0.8"/>
<line x1="156.30" y1="304.00" x2="156.30" y2="318.50" stroke="rgba(0,0,0,0.45)" stroke-width="0.8"/>
<line x1="172.80" y1="304.00" x2="172.80" y2="318.50" stroke="rgba(0,0,0,0.45)" stroke-width="0.8"/>
<line x1="183.20" y1="304.00" x2="183.20" y2="318.50" stroke="rgba(0,0,0,0.45)" stroke-width="0.8"/>
<line x1="196.50" y1="304.00" x2="196.50" y2="318.50" stroke="rgba(0,0,0,0.45)" stroke-width="0.8"/>
<line x1="223.80" y1="304.00" x2="223.80" y2="318.50" stroke="rgba(0,0,0,0.45)" stroke-width="0.8"/>
<line x1="248.50" y1="304.00" x2="248.50" y2="318.50" stroke="rgba(0,0,0,0.45)" stroke-width="0.8"/>
<line x1="283.00" y1="304.00" x2="283.00" y2="318.50" stroke="rgba(0,0,0,0.45)" stroke-width="0.8"/>
<line x1="292.70" y1="304.00" x2="292.70" y2="318.50" stroke="rgba(0,0,0,0.45)" stroke-width="0.8"/>
<line x1="316.90" y1="304.00" x2="316.90" y2="318.50" stroke="rgba(0,0,0,0.45)" stroke-width="0.8"/>
<line x1="329.60" y1="304.00" x2="329.60" y2="318.50" stroke="rgba(0,0,0,0.45)" stroke-width="0.8"/>
<line x1="342.70" y1="304.00" x2="342.70" y2="318.50" stroke="rgba(0,0,0,0.45)" stroke-width="0.8"/>
<line x1="364.90" y1="304.00" x2="364.90" y2="318.50" stroke="rgba(0,0,0,0.45)" stroke-width="0.8"/>
<line x1="133.60" y1="304.00" x2="133.60" y2="318.50" stroke="rgba(0,0,0,0.6)" stroke-width="0.8"/>
<line x1="367.80" y1="304.00" x2="367.80" y2="318.50" stroke="rgba(0,0,0,0.6)" stroke-width="0.8"/>
<text x="107.20" y="316.00" font-size="6.710" text-anchor="end" fill="#222" transform="translate(107.20 0) scale(0.9091 1) translate(-107.20 0)">100</text>
<text x="144.60" y="316.00" font-size="6.710" text-anchor="end" fill="#222" transform="translate(144.60 0) scale(0.9091 1) translate(-144.60 0)">200</text>
<text x="175.00" y="316.00" font-size="6.710" text-anchor="end" fill="#222" transform="translate(175.00 0) scale(0.9091 1) translate(-175.00 0)">300</text>
<text x="207.00" y="316.00" font-size="6.710" text-anchor="end" fill="#fff" transform="translate(207.00 0) scale(0.9091 1) translate(-207.00 0)">400</text>
<text x="242.00" y="316.00" font-size="6.710" text-anchor="end" fill="#222" transform="translate(242.00 0) scale(0.9091 1) translate(-242.00 0)">500</text>
<text x="276.20" y="316.00" font-size="6.710" text-anchor="end" fill="#222" transform="translate(276.20 0) scale(0.9091 1) translate(-276.20 0)">600</text>
<text x="310.00" y="316.00" font-size="6.710" text-anchor="end" fill="#f0f0f0" transform="translate(310.00 0) scale(0.9091 1) translate(-310.00 0)">700</text>
<text x="343.70" y="316.00" font-size="6.710" text-anchor="end" fill="#222" transform="translate(343.70 0) scale(0.9091 1) translate(-343.70 0)">800</text>
<text x="378.90" y="316.00" font-size="6.710" text-anchor="end" fill="#222" transform="translate(378.90 0) scale(0.9091 1) translate(-378.90 0)">900</text>
<rect x="66.30" y="304.00" width="314.20" height="14.50" fill="none" stroke="#333" stroke-width="1.1"/>
<text x="61.90" y="308.21" font-size="6.160" text-anchor="end" fill="#222" font-weight="bold" transform="translate(61.90 0) scale(0.9091 1) translate(-61.90 0)">FBXO11</text>
<text x="61.90" y="313.81" font-size="6.160" text-anchor="end" fill="#2a2a2a" transform="translate(61.90 0) scale(0.9091 1) translate(-61.90 0)">NM_001190274</text>
<text x="61.90" y="327.17" font-size="6.050" text-anchor="end" fill="#222" font-weight="bold" transform="translate(61.90 0) scale(0.9091 1) translate(-61.90 0)">Functional validation</text>
<text x="61.50" y="334.33" font-size="5.940" text-anchor="end" fill="#2a2a2a" transform="translate(61.50 0) scale(0.9091 1) translate(-61.50 0)">9 mutations</text>
<path d="M268.70,322.3 L268.60,354.90" fill="none" stroke="#f8ae5a" stroke-width="1.0"/>
<path d="M282.50,322.3 L282.50,331.8 L276.20,346.5 L276.20,354.90" fill="none" stroke="#8a6498" stroke-width="1.0"/>
<path d="M282.50,322.3 L282.50,331.8 L281.50,346.5 L281.50,354.90" fill="none" stroke="#74ca7e" stroke-width="1.0"/>
<path d="M293.10,322.3 L293.10,331.8 L313.00,346.5 L313.00,354.90" fill="none" stroke="#74ca7e" stroke-width="1.0"/>
<path d="M310.40,322.3 L310.40,331.8 L318.70,346.5 L318.70,354.90" fill="none" stroke="#f8ae5a" stroke-width="1.0"/>
<path d="M323.90,322.3 L323.90,354.90" fill="none" stroke="#d9606f" stroke-width="1.0"/>
<path d="M329.40,322.3 L329.30,354.90" fill="none" stroke="#3f8070" stroke-width="1.0"/>
<path d="M336.00,322.3 L336.10,354.90" fill="none" stroke="#74ca7e" stroke-width="1.0"/>
<circle cx="268.60" cy="354.90" r="2.20" fill="#f7941d"/>
<text x="268.60" y="355.70" font-size="2.400" text-anchor="middle" fill="rgba(255,255,255,0.35)">1</text>
<text x="267.20" y="357.90" font-size="5.350" fill="#f7a440" transform="rotate(90 267.20 357.90) translate(267.20 0) scale(0.9000 1) translate(-267.20 0)">N600_I606del</text>
<circle cx="276.20" cy="354.90" r="2.20" fill="#5c2a6a"/>
<text x="276.20" y="355.70" font-size="2.400" text-anchor="middle" fill="rgba(255,255,255,0.35)">1</text>
<text x="274.80" y="357.90" font-size="5.350" fill="#74508a" transform="rotate(90 274.80 357.90) translate(274.80 0) scale(0.9000 1) translate(-274.80 0)">Q640_splice</text>
<circle cx="281.50" cy="354.90" r="2.20" fill="#3db44c"/>
<text x="281.50" y="355.70" font-size="2.400" text-anchor="middle" fill="rgba(255,255,255,0.35)">1</text>
<text x="284.90" y="356.80" font-size="5.300" fill="#62c26c" transform="translate(284.90 0) scale(0.8800 1) translate(-284.90 0)">V641F</text>
<circle cx="281.50" cy="360.60" r="2.20" fill="#5c2a6a"/>
<text x="281.50" y="361.40" font-size="2.400" text-anchor="middle" fill="rgba(255,255,255,0.35)">1</text>
<text x="284.90" y="362.50" font-size="5.300" fill="#74508a" transform="translate(284.90 0) scale(0.8800 1) translate(-284.90 0)">V641_splice</text>
<circle cx="313.00" cy="354.90" r="2.20" fill="#3db44c"/>
<text x="313.00" y="355.70" font-size="2.400" text-anchor="middle" fill="rgba(255,255,255,0.35)">1</text>
<text x="311.60" y="357.90" font-size="5.350" fill="#62c26c" transform="rotate(90 311.60 357.90) translate(311.60 0) scale(0.9000 1) translate(-311.60 0)">S672N</text>
<circle cx="318.70" cy="354.90" r="2.20" fill="#f7941d"/>
<text x="318.70" y="355.70" font-size="2.400" text-anchor="middle" fill="rgba(255,255,255,0.35)">1</text>
<text x="317.30" y="357.90" font-size="5.350" fill="#f7a440" transform="rotate(90 317.30 357.90) translate(317.30 0) scale(0.9000 1) translate(-317.30 0)">R723del</text>
<circle cx="323.90" cy="354.90" r="2.20" fill="#c8102e"/>
<text x="323.90" y="355.70" font-size="2.400" text-anchor="middle" fill="rgba(255,255,255,0.35)">1</text>
<text x="322.50" y="357.90" font-size="5.350" fill="#d23a52" transform="rotate(90 322.50 357.90) translate(322.50 0) scale(0.9000 1) translate(-322.50 0)">N763Kfs*12</text>
<circle cx="329.30" cy="354.90" r="2.20" fill="#0d5c45"/>
<text x="329.30" y="355.70" font-size="2.400" text-anchor="middle" fill="rgba(255,255,255,0.35)">1</text>
<text x="327.90" y="357.90" font-size="5.350" fill="#367868" transform="rotate(90 327.90 357.90) translate(327.90 0) scale(0.9000 1) translate(-327.90 0)">X780_splice_region</text>
<circle cx="336.10" cy="354.90" r="2.20" fill="#3db44c"/>
<text x="336.10" y="355.70" font-size="2.400" text-anchor="middle" fill="rgba(255,255,255,0.35)">1</text>
<text x="339.50" y="356.80" font-size="5.300" fill="#62c26c" transform="translate(339.50 0) scale(0.8800 1) translate(-339.50 0)">N799K</text>
<rect x="371.20" y="337.30" width="4.60" height="6.20" fill="#c8202f"/>
<text x="378.10" y="343.00" font-size="7.260" fill="#231f20" transform="translate(378.10 0) scale(0.9091 1) translate(-378.10 0)" stroke="#231f20" stroke-width="0.1">F-box-like</text>
<text x="415.80" y="342.45" font-size="5.720" fill="#ababab" transform="translate(415.80 0) scale(0.9091 1) translate(-415.80 0)">F-box-like</text>
<rect x="371.20" y="346.00" width="4.60" height="5.90" fill="#0f5286"/>
<text x="378.10" y="351.40" font-size="7.260" fill="#231f20" transform="translate(378.10 0) scale(0.9091 1) translate(-378.10 0)" stroke="#231f20" stroke-width="0.1">Beta_helix</text>
<text x="418.10" y="350.93" font-size="5.940" fill="#ababab" transform="translate(418.10 0) scale(0.9091 1) translate(-418.10 0)">Right handed beta helix region</text>
<rect x="371.20" y="354.20" width="4.60" height="6.20" fill="#3db44c"/>
<text x="378.10" y="359.90" font-size="7.260" fill="#231f20" stroke="#231f20" stroke-width="0.1" textLength="107.8" lengthAdjust="spacingAndGlyphs">CASH Carbohydrate-binding/sugar</text>
<rect x="371.20" y="371.60" width="4.60" height="6.50" fill="#5c2a6a"/>
<text x="378.10" y="377.60" font-size="7.260" fill="#231f20" transform="translate(378.10 0) scale(0.9091 1) translate(-378.10 0)" stroke="#231f20" stroke-width="0.1">zf-UBR</text>
<text x="409.90" y="377.13" font-size="5.940" fill="#ababab" transform="translate(409.90 0) scale(0.9091 1) translate(-409.90 0)">Putative zinc finger in N-recognin (UBR box)</text>
<text x="378.10" y="368.80" font-size="7.260" fill="#231f20" transform="translate(378.10 0) scale(0.9091 1) translate(-378.10 0)" stroke="#231f20" stroke-width="0.1">hydrolysis domain</text>
<text x="6.70" y="415.88" font-size="11.400" fill="#111" font-weight="bold" transform="translate(6.70 0) scale(0.9700 1) translate(-6.70 0)" stroke="#111" stroke-width="0.35">D</text>
<rect x="77.25" y="409.40" width="3.40" height="7.70" fill="#d9d9d9"/>
<rect x="77.25" y="409.40" width="3.40" height="7.70" fill="#f5ea14"/>
<rect x="81.19" y="409.40" width="3.40" height="7.70" fill="#d9d9d9"/>
<rect x="81.19" y="409.40" width="3.40" height="7.70" fill="#f6999d"/>
<rect x="85.12" y="409.40" width="3.40" height="7.70" fill="#d9d9d9"/>
<rect x="85.12" y="409.40" width="3.40" height="7.70" fill="#f6999d"/>
<rect x="89.06" y="409.40" width="3.40" height="7.70" fill="#d9d9d9"/>
<rect x="89.06" y="409.40" width="3.40" height="7.70" fill="#f6999d"/>
<rect x="92.99" y="409.40" width="3.40" height="7.70" fill="#d9d9d9"/>
<rect x="92.99" y="409.40" width="3.40" height="7.70" fill="#f6999d"/>
<rect x="96.92" y="409.40" width="3.40" height="7.70" fill="#d9d9d9"/>
<rect x="96.92" y="409.40" width="3.40" height="3.90" fill="#e31a1c"/>
<rect x="96.92" y="413.25" width="3.40" height="3.85" fill="#f6999d"/>
<rect x="100.86" y="409.40" width="3.40" height="7.70" fill="#d9d9d9"/>
<rect x="100.86" y="409.40" width="3.40" height="7.70" fill="#e31a1c"/>
<rect x="104.80" y="409.40" width="3.40" height="7.70" fill="#d9d9d9"/>
<rect x="104.80" y="409.40" width="3.40" height="7.70" fill="#cab2d6"/>
<rect x="108.73" y="409.40" width="3.40" height="7.70" fill="#d9d9d9"/>
<rect x="108.73" y="409.40" width="3.40" height="7.70" fill="#f6999d"/>
<rect x="112.66" y="409.40" width="3.40" height="7.70" fill="#d9d9d9"/>
<rect x="112.66" y="409.40" width="3.40" height="2.62" fill="#ff7f00"/>
<rect x="112.66" y="411.97" width="3.40" height="2.62" fill="#1f78b4"/>
<rect x="112.66" y="414.53" width="3.40" height="2.57" fill="#e31a1c"/>
<rect x="116.60" y="409.40" width="3.40" height="7.70" fill="#d9d9d9"/>
<rect x="116.60" y="409.40" width="3.40" height="3.90" fill="#fdbf6f"/>
<rect x="116.60" y="413.25" width="3.40" height="3.85" fill="#a6cee3"/>
<rect x="120.53" y="409.40" width="3.40" height="7.70" fill="#d9d9d9"/>
<rect x="120.53" y="409.40" width="3.40" height="7.70" fill="#b2df8a"/>
<rect x="124.47" y="409.40" width="3.40" height="7.70" fill="#d9d9d9"/>
<rect x="124.47" y="409.40" width="3.40" height="7.70" fill="#fdbf6f"/>
<rect x="128.41" y="409.40" width="3.40" height="7.70" fill="#d9d9d9"/>
<rect x="128.41" y="409.40" width="3.40" height="7.70" fill="#e31a1c"/>
<rect x="132.34" y="409.40" width="3.40" height="7.70" fill="#d9d9d9"/>
<rect x="132.34" y="409.40" width="3.40" height="3.90" fill="#a6cee3"/>
<rect x="132.34" y="413.25" width="3.40" height="3.85" fill="#f6999d"/>
<rect x="136.28" y="409.40" width="3.40" height="7.70" fill="#d9d9d9"/>
<rect x="136.28" y="409.40" width="3.40" height="7.70" fill="#e31a1c"/>
<rect x="140.21" y="409.40" width="3.40" height="7.70" fill="#d9d9d9"/>
<rect x="140.21" y="409.40" width="3.40" height="7.70" fill="#b15928"/>
<rect x="144.14" y="409.40" width="3.40" height="7.70" fill="#d9d9d9"/>
<rect x="148.08" y="409.40" width="3.40" height="7.70" fill="#d9d9d9"/>
<rect x="152.01" y="409.40" width="3.40" height="7.70" fill="#d9d9d9"/>
<rect x="155.95" y="409.40" width="3.40" height="7.70" fill="#d9d9d9"/>
<rect x="159.88" y="409.40" width="3.40" height="7.70" fill="#d9d9d9"/>
<rect x="163.82" y="409.40" width="3.40" height="7.70" fill="#d9d9d9"/>
<rect x="167.75" y="409.40" width="3.40" height="7.70" fill="#d9d9d9"/>
<rect x="171.69" y="409.40" width="3.40" height="7.70" fill="#d9d9d9"/>
<rect x="175.62" y="409.40" width="3.40" height="7.70" fill="#d9d9d9"/>
<rect x="179.56" y="409.40" width="3.40" height="7.70" fill="#d9d9d9"/>
<rect x="183.50" y="409.40" width="3.40" height="7.70" fill="#d9d9d9"/>
<rect x="187.43" y="409.40" width="3.40" height="7.70" fill="#d9d9d9"/>
<rect x="191.37" y="409.40" width="3.40" height="7.70" fill="#d9d9d9"/>
<rect x="195.30" y="409.40" width="3.40" height="7.70" fill="#d9d9d9"/>
<rect x="199.24" y="409.40" width="3.40" height="7.70" fill="#d9d9d9"/>
<rect x="203.17" y="409.40" width="3.40" height="7.70" fill="#d9d9d9"/>
<rect x="207.10" y="409.40" width="3.40" height="7.70" fill="#d9d9d9"/>
<rect x="211.04" y="409.40" width="3.40" height="7.70" fill="#d9d9d9"/>
<rect x="214.97" y="409.40" width="3.40" height="7.70" fill="#d9d9d9"/>
<rect x="218.91" y="409.40" width="3.40" height="7.70" fill="#d9d9d9"/>
<rect x="222.84" y="409.40" width="3.40" height="7.70" fill="#d9d9d9"/>
<rect x="226.78" y="409.40" width="3.40" height="7.70" fill="#d9d9d9"/>
<text x="232.80" y="416.96" font-size="8.680" fill="#231f20" transform="translate(232.80 0) scale(0.8929 1) translate(-232.80 0)" stroke="#231f20" stroke-width="0.15">FBXO11</text>
<rect x="77.25" y="421.40" width="3.40" height="7.25" fill="#d9d9d9"/>
<rect x="77.25" y="421.40" width="3.40" height="7.25" fill="#f6999d"/>
<rect x="81.19" y="421.40" width="3.40" height="7.25" fill="#d9d9d9"/>
<rect x="81.19" y="421.40" width="3.40" height="7.25" fill="#f6999d"/>
<rect x="85.12" y="421.40" width="3.40" height="7.25" fill="#d9d9d9"/>
<rect x="85.12" y="421.40" width="3.40" height="3.67" fill="#e31a1c"/>
<rect x="85.12" y="425.02" width="3.40" height="3.62" fill="#f6999d"/>
<rect x="89.06" y="421.40" width="3.40" height="7.25" fill="#d9d9d9"/>
<rect x="89.06" y="421.40" width="3.40" height="7.25" fill="#f6999d"/>
<rect x="92.99" y="421.40" width="3.40" height="7.25" fill="#d9d9d9"/>
<rect x="92.99" y="421.40" width="3.40" height="3.67" fill="#e31a1c"/>
<rect x="92.99" y="425.02" width="3.40" height="3.62" fill="#f6999d"/>
<rect x="96.92" y="421.40" width="3.40" height="7.25" fill="#d9d9d9"/>
<rect x="96.92" y="421.40" width="3.40" height="7.25" fill="#f6999d"/>
<rect x="100.86" y="421.40" width="3.40" height="7.25" fill="#d9d9d9"/>
<rect x="100.86" y="421.40" width="3.40" height="7.25" fill="#f6999d"/>
<rect x="104.80" y="421.40" width="3.40" height="7.25" fill="#d9d9d9"/>
<rect x="108.73" y="421.40" width="3.40" height="7.25" fill="#d9d9d9"/>
<rect x="112.66" y="421.40" width="3.40" height="7.25" fill="#d9d9d9"/>
<rect x="116.60" y="421.40" width="3.40" height="7.25" fill="#d9d9d9"/>
<rect x="120.53" y="421.40" width="3.40" height="7.25" fill="#d9d9d9"/>
<rect x="120.53" y="421.40" width="3.40" height="7.25" fill="#f6999d"/>
<rect x="124.47" y="421.40" width="3.40" height="7.25" fill="#d9d9d9"/>
<rect x="124.47" y="421.40" width="3.40" height="7.25" fill="#f6999d"/>
<rect x="128.41" y="421.40" width="3.40" height="7.25" fill="#d9d9d9"/>
<rect x="128.41" y="421.40" width="3.40" height="7.25" fill="#f6999d"/>
<rect x="132.34" y="421.40" width="3.40" height="7.25" fill="#d9d9d9"/>
<rect x="132.34" y="421.40" width="3.40" height="3.67" fill="#fdbf6f"/>
<rect x="132.34" y="425.02" width="3.40" height="3.62" fill="#f6999d"/>
<rect x="136.28" y="421.40" width="3.40" height="7.25" fill="#d9d9d9"/>
<rect x="136.28" y="421.40" width="3.40" height="7.25" fill="#f6999d"/>
<rect x="140.21" y="421.40" width="3.40" height="7.25" fill="#d9d9d9"/>
<rect x="140.21" y="421.40" width="3.40" height="3.67" fill="#b15928"/>
<rect x="140.21" y="425.02" width="3.40" height="3.62" fill="#cab2d6"/>
<rect x="144.14" y="421.40" width="3.40" height="7.25" fill="#d9d9d9"/>
<rect x="144.14" y="421.40" width="3.40" height="3.67" fill="#b15928"/>
<rect x="144.14" y="425.02" width="3.40" height="3.62" fill="#f6999d"/>
<rect x="148.08" y="421.40" width="3.40" height="7.25" fill="#d9d9d9"/>
<rect x="148.08" y="421.40" width="3.40" height="2.47" fill="#b15928"/>
<rect x="148.08" y="423.82" width="3.40" height="2.47" fill="#f5ea14"/>
<rect x="148.08" y="426.23" width="3.40" height="2.42" fill="#f6999d"/>
<rect x="152.01" y="421.40" width="3.40" height="7.25" fill="#d9d9d9"/>
<rect x="152.01" y="421.40" width="3.40" height="7.25" fill="#f6999d"/>
<rect x="155.95" y="421.40" width="3.40" height="7.25" fill="#d9d9d9"/>
<rect x="155.95" y="421.40" width="3.40" height="7.25" fill="#f6999d"/>
<rect x="159.88" y="421.40" width="3.40" height="7.25" fill="#d9d9d9"/>
<rect x="159.88" y="421.40" width="3.40" height="7.25" fill="#f6999d"/>
<rect x="163.82" y="421.40" width="3.40" height="7.25" fill="#d9d9d9"/>
<rect x="163.82" y="421.40" width="3.40" height="7.25" fill="#f6999d"/>
<rect x="167.75" y="421.40" width="3.40" height="7.25" fill="#d9d9d9"/>
<rect x="167.75" y="421.40" width="3.40" height="7.25" fill="#f6999d"/>
<rect x="171.69" y="421.40" width="3.40" height="7.25" fill="#d9d9d9"/>
<rect x="171.69" y="421.40" width="3.40" height="7.25" fill="#f6999d"/>
<rect x="175.62" y="421.40" width="3.40" height="7.25" fill="#d9d9d9"/>
<rect x="175.62" y="421.40" width="3.40" height="7.25" fill="#f5ea14"/>
<rect x="179.56" y="421.40" width="3.40" height="7.25" fill="#d9d9d9"/>
<rect x="179.56" y="421.40" width="3.40" height="7.25" fill="#f6999d"/>
<rect x="183.50" y="421.40" width="3.40" height="7.25" fill="#d9d9d9"/>
<rect x="183.50" y="421.40" width="3.40" height="3.67" fill="#b15928"/>
<rect x="183.50" y="425.02" width="3.40" height="3.62" fill="#e31a1c"/>
<rect x="187.43" y="421.40" width="3.40" height="7.25" fill="#d9d9d9"/>
<rect x="187.43" y="421.40" width="3.40" height="7.25" fill="#f6999d"/>
<rect x="191.37" y="421.40" width="3.40" height="7.25" fill="#d9d9d9"/>
<rect x="191.37" y="421.40" width="3.40" height="7.25" fill="#f6999d"/>
<rect x="195.30" y="421.40" width="3.40" height="7.25" fill="#d9d9d9"/>
<rect x="195.30" y="421.40" width="3.40" height="7.25" fill="#f6999d"/>
<rect x="199.24" y="421.40" width="3.40" height="7.25" fill="#d9d9d9"/>
<rect x="203.17" y="421.40" width="3.40" height="7.25" fill="#d9d9d9"/>
<rect x="203.17" y="421.40" width="3.40" height="7.25" fill="#f5ea14"/>
<rect x="207.10" y="421.40" width="3.40" height="7.25" fill="#d9d9d9"/>
<rect x="211.04" y="421.40" width="3.40" height="7.25" fill="#d9d9d9"/>
<rect x="211.04" y="421.40" width="3.40" height="7.25" fill="#f6999d"/>
<rect x="214.97" y="421.40" width="3.40" height="7.25" fill="#d9d9d9"/>
<rect x="214.97" y="421.40" width="3.40" height="7.25" fill="#f6999d"/>
<rect x="218.91" y="421.40" width="3.40" height="7.25" fill="#d9d9d9"/>
<rect x="218.91" y="421.40" width="3.40" height="7.25" fill="#f6999d"/>
<rect x="222.84" y="421.40" width="3.40" height="7.25" fill="#d9d9d9"/>
<rect x="222.84" y="421.40" width="3.40" height="7.25" fill="#f6999d"/>
<rect x="226.78" y="421.40" width="3.40" height="7.25" fill="#d9d9d9"/>
<text x="232.80" y="428.73" font-size="8.680" fill="#231f20" transform="translate(232.80 0) scale(0.8929 1) translate(-232.80 0)" stroke="#231f20" stroke-width="0.15">MYC</text>
<rect x="77.25" y="429.47" width="3.40" height="7.25" fill="#d9d9d9"/>
<rect x="77.25" y="429.47" width="3.40" height="7.25" fill="#a6cee3"/>
<rect x="81.19" y="429.47" width="3.40" height="7.25" fill="#d9d9d9"/>
<rect x="81.19" y="429.47" width="3.40" height="7.25" fill="#f6999d"/>
<rect x="85.12" y="429.47" width="3.40" height="7.25" fill="#d9d9d9"/>
<rect x="89.06" y="429.47" width="3.40" height="7.25" fill="#d9d9d9"/>
<rect x="92.99" y="429.47" width="3.40" height="7.25" fill="#d9d9d9"/>
<rect x="96.92" y="429.47" width="3.40" height="7.25" fill="#d9d9d9"/>
<rect x="100.86" y="429.47" width="3.40" height="7.25" fill="#d9d9d9"/>
<rect x="100.86" y="429.47" width="3.40" height="3.67" fill="#1f78b4"/>
<rect x="100.86" y="433.09" width="3.40" height="3.62" fill="#08392a"/>
<rect x="104.80" y="429.47" width="3.40" height="7.25" fill="#d9d9d9"/>
<rect x="108.73" y="429.47" width="3.40" height="7.25" fill="#d9d9d9"/>
<rect x="108.73" y="429.47" width="3.40" height="7.25" fill="#f6999d"/>
<rect x="112.66" y="429.47" width="3.40" height="7.25" fill="#d9d9d9"/>
<rect x="116.60" y="429.47" width="3.40" height="7.25" fill="#d9d9d9"/>
<rect x="120.53" y="429.47" width="3.40" height="7.25" fill="#d9d9d9"/>
<rect x="120.53" y="429.47" width="3.40" height="7.25" fill="#1f78b4"/>
<rect x="124.47" y="429.47" width="3.40" height="7.25" fill="#d9d9d9"/>
<rect x="124.47" y="429.47" width="3.40" height="7.25" fill="#f6999d"/>
<rect x="128.41" y="429.47" width="3.40" height="7.25" fill="#d9d9d9"/>
<rect x="132.34" y="429.47" width="3.40" height="7.25" fill="#d9d9d9"/>
<rect x="132.34" y="429.47" width="3.40" height="7.25" fill="#fdbf6f"/>
<rect x="136.28" y="429.47" width="3.40" height="7.25" fill="#d9d9d9"/>
<rect x="140.21" y="429.47" width="3.40" height="7.25" fill="#d9d9d9"/>
<rect x="140.21" y="429.47" width="3.40" height="7.25" fill="#f6999d"/>
<rect x="144.14" y="429.47" width="3.40" height="7.25" fill="#d9d9d9"/>
<rect x="144.14" y="429.47" width="3.40" height="7.25" fill="#1f78b4"/>
<rect x="148.08" y="429.47" width="3.40" height="7.25" fill="#d9d9d9"/>
<rect x="148.08" y="429.47" width="3.40" height="7.25" fill="#a6cee3"/>
<rect x="152.01" y="429.47" width="3.40" height="7.25" fill="#d9d9d9"/>
<rect x="152.01" y="429.47" width="3.40" height="7.25" fill="#f6999d"/>
<rect x="155.95" y="429.47" width="3.40" height="7.25" fill="#d9d9d9"/>
<rect x="155.95" y="429.47" width="3.40" height="3.67" fill="#1f78b4"/>
<rect x="155.95" y="433.09" width="3.40" height="3.62" fill="#f5ea14"/>
<rect x="159.88" y="429.47" width="3.40" height="7.25" fill="#d9d9d9"/>
<rect x="159.88" y="429.47" width="3.40" height="7.25" fill="#1f78b4"/>
<rect x="163.82" y="429.47" width="3.40" height="7.25" fill="#d9d9d9"/>
<rect x="163.82" y="429.47" width="3.40" height="7.25" fill="#1f78b4"/>
<rect x="167.75" y="429.47" width="3.40" height="7.25" fill="#d9d9d9"/>
<rect x="171.69" y="429.47" width="3.40" height="7.25" fill="#d9d9d9"/>
<rect x="175.62" y="429.47" width="3.40" height="7.25" fill="#d9d9d9"/>
<rect x="179.56" y="429.47" width="3.40" height="7.25" fill="#d9d9d9"/>
<rect x="179.56" y="429.47" width="3.40" height="7.25" fill="#1f78b4"/>
<rect x="183.50" y="429.47" width="3.40" height="7.25" fill="#d9d9d9"/>
<rect x="183.50" y="429.47" width="3.40" height="3.67" fill="#1f78b4"/>
<rect x="183.50" y="433.09" width="3.40" height="3.62" fill="#08392a"/>
<rect x="187.43" y="429.47" width="3.40" height="7.25" fill="#d9d9d9"/>
<rect x="187.43" y="429.47" width="3.40" height="3.67" fill="#b15928"/>
<rect x="187.43" y="433.09" width="3.40" height="3.62" fill="#1f78b4"/>
<rect x="191.37" y="429.47" width="3.40" height="7.25" fill="#d9d9d9"/>
<rect x="191.37" y="429.47" width="3.40" height="7.25" fill="#a6cee3"/>
<rect x="195.30" y="429.47" width="3.40" height="7.25" fill="#d9d9d9"/>
<rect x="199.24" y="429.47" width="3.40" height="7.25" fill="#d9d9d9"/>
<rect x="203.17" y="429.47" width="3.40" height="7.25" fill="#d9d9d9"/>
<rect x="207.10" y="429.47" width="3.40" height="7.25" fill="#d9d9d9"/>
<rect x="211.04" y="429.47" width="3.40" height="7.25" fill="#d9d9d9"/>
<rect x="214.97" y="429.47" width="3.40" height="7.25" fill="#d9d9d9"/>
<rect x="218.91" y="429.47" width="3.40" height="7.25" fill="#d9d9d9"/>
<rect x="222.84" y="429.47" width="3.40" height="7.25" fill="#d9d9d9"/>
<rect x="222.84" y="429.47" width="3.40" height="7.25" fill="#1f78b4"/>
<rect x="226.78" y="429.47" width="3.40" height="7.25" fill="#d9d9d9"/>
<rect x="226.78" y="429.47" width="3.40" height="7.25" fill="#1f78b4"/>
<text x="232.80" y="436.80" font-size="8.680" fill="#231f20" transform="translate(232.80 0) scale(0.8929 1) translate(-232.80 0)" stroke="#231f20" stroke-width="0.15">CCND3</text>
<rect x="77.25" y="437.54" width="3.40" height="7.25" fill="#d9d9d9"/>
<rect x="77.25" y="437.54" width="3.40" height="7.25" fill="#f6999d"/>
<rect x="81.19" y="437.54" width="3.40" height="7.25" fill="#d9d9d9"/>
<rect x="81.19" y="437.54" width="3.40" height="3.67" fill="#08392a"/>
<rect x="81.19" y="441.16" width="3.40" height="3.62" fill="#f6999d"/>
<rect x="85.12" y="437.54" width="3.40" height="7.25" fill="#d9d9d9"/>
<rect x="85.12" y="437.54" width="3.40" height="3.67" fill="#ff7f00"/>
<rect x="85.12" y="441.16" width="3.40" height="3.62" fill="#f6999d"/>
<rect x="89.06" y="437.54" width="3.40" height="7.25" fill="#d9d9d9"/>
<rect x="92.99" y="437.54" width="3.40" height="7.25" fill="#d9d9d9"/>
<rect x="96.92" y="437.54" width="3.40" height="7.25" fill="#d9d9d9"/>
<rect x="100.86" y="437.54" width="3.40" height="7.25" fill="#d9d9d9"/>
<rect x="100.86" y="437.54" width="3.40" height="3.67" fill="#08392a"/>
<rect x="100.86" y="441.16" width="3.40" height="3.62" fill="#f6999d"/>
<rect x="104.80" y="437.54" width="3.40" height="7.25" fill="#d9d9d9"/>
<rect x="108.73" y="437.54" width="3.40" height="7.25" fill="#d9d9d9"/>
<rect x="108.73" y="437.54" width="3.40" height="3.67" fill="#08392a"/>
<rect x="108.73" y="441.16" width="3.40" height="3.62" fill="#f6999d"/>
<rect x="112.66" y="437.54" width="3.40" height="7.25" fill="#d9d9d9"/>
<rect x="112.66" y="437.54" width="3.40" height="7.25" fill="#f6999d"/>
<rect x="116.60" y="437.54" width="3.40" height="7.25" fill="#d9d9d9"/>
<rect x="116.60" y="437.54" width="3.40" height="7.25" fill="#f6999d"/>
<rect x="120.53" y="437.54" width="3.40" height="7.25" fill="#d9d9d9"/>
<rect x="120.53" y="437.54" width="3.40" height="7.25" fill="#f6999d"/>
<rect x="124.47" y="437.54" width="3.40" height="7.25" fill="#d9d9d9"/>
<rect x="124.47" y="437.54" width="3.40" height="7.25" fill="#f6999d"/>
<rect x="128.41" y="437.54" width="3.40" height="7.25" fill="#d9d9d9"/>
<rect x="132.34" y="437.54" width="3.40" height="7.25" fill="#d9d9d9"/>
<rect x="136.28" y="437.54" width="3.40" height="7.25" fill="#d9d9d9"/>
<rect x="140.21" y="437.54" width="3.40" height="7.25" fill="#d9d9d9"/>
<rect x="140.21" y="437.54" width="3.40" height="7.25" fill="#33a02c"/>
<rect x="144.14" y="437.54" width="3.40" height="7.25" fill="#d9d9d9"/>
<rect x="144.14" y="437.54" width="3.40" height="7.25" fill="#f6999d"/>
<rect x="148.08" y="437.54" width="3.40" height="7.25" fill="#d9d9d9"/>
<rect x="148.08" y="437.54" width="3.40" height="3.67" fill="#08392a"/>
<rect x="148.08" y="441.16" width="3.40" height="3.62" fill="#f6999d"/>
<rect x="152.01" y="437.54" width="3.40" height="7.25" fill="#d9d9d9"/>
<rect x="152.01" y="437.54" width="3.40" height="3.67" fill="#08392a"/>
<rect x="152.01" y="441.16" width="3.40" height="3.62" fill="#f6999d"/>
<rect x="155.95" y="437.54" width="3.40" height="7.25" fill="#d9d9d9"/>
<rect x="159.88" y="437.54" width="3.40" height="7.25" fill="#d9d9d9"/>
<rect x="163.82" y="437.54" width="3.40" height="7.25" fill="#d9d9d9"/>
<rect x="167.75" y="437.54" width="3.40" height="7.25" fill="#d9d9d9"/>
<rect x="167.75" y="437.54" width="3.40" height="7.25" fill="#f6999d"/>
<rect x="171.69" y="437.54" width="3.40" height="7.25" fill="#d9d9d9"/>
<rect x="175.62" y="437.54" width="3.40" height="7.25" fill="#d9d9d9"/>
<rect x="179.56" y="437.54" width="3.40" height="7.25" fill="#d9d9d9"/>
<rect x="183.50" y="437.54" width="3.40" height="7.25" fill="#d9d9d9"/>
<rect x="187.43" y="437.54" width="3.40" height="7.25" fill="#d9d9d9"/>
<rect x="191.37" y="437.54" width="3.40" height="7.25" fill="#d9d9d9"/>
<rect x="195.30" y="437.54" width="3.40" height="7.25" fill="#d9d9d9"/>
<rect x="195.30" y="437.54" width="3.40" height="3.67" fill="#08392a"/>
<rect x="195.30" y="441.16" width="3.40" height="3.62" fill="#f6999d"/>
<rect x="199.24" y="437.54" width="3.40" height="7.25" fill="#d9d9d9"/>
<rect x="203.17" y="437.54" width="3.40" height="7.25" fill="#d9d9d9"/>
<rect x="203.17" y="437.54" width="3.40" height="7.25" fill="#f6999d"/>
<rect x="207.10" y="437.54" width="3.40" height="7.25" fill="#d9d9d9"/>
<rect x="211.04" y="437.54" width="3.40" height="7.25" fill="#d9d9d9"/>
<rect x="211.04" y="437.54" width="3.40" height="3.67" fill="#08392a"/>
<rect x="211.04" y="441.16" width="3.40" height="3.62" fill="#f6999d"/>
<rect x="214.97" y="437.54" width="3.40" height="7.25" fill="#d9d9d9"/>
<rect x="218.91" y="437.54" width="3.40" height="7.25" fill="#d9d9d9"/>
<rect x="222.84" y="437.54" width="3.40" height="7.25" fill="#d9d9d9"/>
<rect x="222.84" y="437.54" width="3.40" height="7.25" fill="#f6999d"/>
<rect x="226.78" y="437.54" width="3.40" height="7.25" fill="#d9d9d9"/>
<text x="232.80" y="444.87" font-size="8.680" fill="#231f20" transform="translate(232.80 0) scale(0.8929 1) translate(-232.80 0)" stroke="#231f20" stroke-width="0.15">TP53</text>
<rect x="77.25" y="445.61" width="3.40" height="7.25" fill="#d9d9d9"/>
<rect x="81.19" y="445.61" width="3.40" height="7.25" fill="#d9d9d9"/>
<rect x="85.12" y="445.61" width="3.40" height="7.25" fill="#d9d9d9"/>
<rect x="85.12" y="445.61" width="3.40" height="3.67" fill="#1f78b4"/>
<rect x="85.12" y="449.23" width="3.40" height="3.62" fill="#f5ea14"/>
<rect x="89.06" y="445.61" width="3.40" height="7.25" fill="#d9d9d9"/>
<rect x="92.99" y="445.61" width="3.40" height="7.25" fill="#d9d9d9"/>
<rect x="96.92" y="445.61" width="3.40" height="7.25" fill="#d9d9d9"/>
<rect x="96.92" y="445.61" width="3.40" height="7.25" fill="#1f78b4"/>
<rect x="100.86" y="445.61" width="3.40" height="7.25" fill="#d9d9d9"/>
<rect x="104.80" y="445.61" width="3.40" height="7.25" fill="#d9d9d9"/>
<rect x="108.73" y="445.61" width="3.40" height="7.25" fill="#d9d9d9"/>
<rect x="112.66" y="445.61" width="3.40" height="7.25" fill="#d9d9d9"/>
<rect x="116.60" y="445.61" width="3.40" height="7.25" fill="#d9d9d9"/>
<rect x="116.60" y="445.61" width="3.40" height="7.25" fill="#fdbf6f"/>
<rect x="120.53" y="445.61" width="3.40" height="7.25" fill="#d9d9d9"/>
<rect x="124.47" y="445.61" width="3.40" height="7.25" fill="#d9d9d9"/>
<rect x="128.41" y="445.61" width="3.40" height="7.25" fill="#d9d9d9"/>
<rect x="128.41" y="445.61" width="3.40" height="7.25" fill="#fdbf6f"/>
<rect x="132.34" y="445.61" width="3.40" height="7.25" fill="#d9d9d9"/>
<rect x="136.28" y="445.61" width="3.40" height="7.25" fill="#d9d9d9"/>
<rect x="140.21" y="445.61" width="3.40" height="7.25" fill="#d9d9d9"/>
<rect x="144.14" y="445.61" width="3.40" height="7.25" fill="#d9d9d9"/>
<rect x="148.08" y="445.61" width="3.40" height="7.25" fill="#d9d9d9"/>
<rect x="152.01" y="445.61" width="3.40" height="7.25" fill="#d9d9d9"/>
<rect x="155.95" y="445.61" width="3.40" height="7.25" fill="#d9d9d9"/>
<rect x="159.88" y="445.61" width="3.40" height="7.25" fill="#d9d9d9"/>
<rect x="163.82" y="445.61" width="3.40" height="7.25" fill="#d9d9d9"/>
<rect x="167.75" y="445.61" width="3.40" height="7.25" fill="#d9d9d9"/>
<rect x="171.69" y="445.61" width="3.40" height="7.25" fill="#d9d9d9"/>
<rect x="175.62" y="445.61" width="3.40" height="7.25" fill="#d9d9d9"/>
<rect x="179.56" y="445.61" width="3.40" height="7.25" fill="#d9d9d9"/>
<rect x="183.50" y="445.61" width="3.40" height="7.25" fill="#d9d9d9"/>
<rect x="187.43" y="445.61" width="3.40" height="7.25" fill="#d9d9d9"/>
<rect x="191.37" y="445.61" width="3.40" height="7.25" fill="#d9d9d9"/>
<rect x="195.30" y="445.61" width="3.40" height="7.25" fill="#d9d9d9"/>
<rect x="195.30" y="445.61" width="3.40" height="3.67" fill="#fdbf6f"/>
<rect x="195.30" y="449.23" width="3.40" height="3.62" fill="#08392a"/>
<rect x="199.24" y="445.61" width="3.40" height="7.25" fill="#d9d9d9"/>
<rect x="203.17" y="445.61" width="3.40" height="7.25" fill="#d9d9d9"/>
<rect x="207.10" y="445.61" width="3.40" height="7.25" fill="#d9d9d9"/>
<rect x="211.04" y="445.61" width="3.40" height="7.25" fill="#d9d9d9"/>
<rect x="214.97" y="445.61" width="3.40" height="7.25" fill="#d9d9d9"/>
<rect x="218.91" y="445.61" width="3.40" height="7.25" fill="#d9d9d9"/>
<rect x="222.84" y="445.61" width="3.40" height="7.25" fill="#d9d9d9"/>
<rect x="226.78" y="445.61" width="3.40" height="7.25" fill="#d9d9d9"/>
<text x="232.80" y="452.94" font-size="8.680" fill="#231f20" transform="translate(232.80 0) scale(0.8929 1) translate(-232.80 0)" stroke="#231f20" stroke-width="0.15">RFX7</text>
<rect x="77.25" y="453.68" width="3.40" height="7.25" fill="#d9d9d9"/>
<rect x="81.19" y="453.68" width="3.40" height="7.25" fill="#d9d9d9"/>
<rect x="85.12" y="453.68" width="3.40" height="7.25" fill="#d9d9d9"/>
<rect x="85.12" y="453.68" width="3.40" height="7.25" fill="#f6999d"/>
<rect x="89.06" y="453.68" width="3.40" height="7.25" fill="#d9d9d9"/>
<rect x="92.99" y="453.68" width="3.40" height="7.25" fill="#d9d9d9"/>
<rect x="92.99" y="453.68" width="3.40" height="7.25" fill="#fdbf6f"/>
<rect x="96.92" y="453.68" width="3.40" height="7.25" fill="#d9d9d9"/>
<rect x="100.86" y="453.68" width="3.40" height="7.25" fill="#d9d9d9"/>
<rect x="104.80" y="453.68" width="3.40" height="7.25" fill="#d9d9d9"/>
<rect x="108.73" y="453.68" width="3.40" height="7.25" fill="#d9d9d9"/>
<rect x="112.66" y="453.68" width="3.40" height="7.25" fill="#d9d9d9"/>
<rect x="116.60" y="453.68" width="3.40" height="7.25" fill="#d9d9d9"/>
<rect x="120.53" y="453.68" width="3.40" height="7.25" fill="#d9d9d9"/>
<rect x="124.47" y="453.68" width="3.40" height="7.25" fill="#d9d9d9"/>
<rect x="128.41" y="453.68" width="3.40" height="7.25" fill="#d9d9d9"/>
<rect x="128.41" y="453.68" width="3.40" height="7.25" fill="#f6999d"/>
<rect x="132.34" y="453.68" width="3.40" height="7.25" fill="#d9d9d9"/>
<rect x="136.28" y="453.68" width="3.40" height="7.25" fill="#d9d9d9"/>
<rect x="140.21" y="453.68" width="3.40" height="7.25" fill="#d9d9d9"/>
<rect x="144.14" y="453.68" width="3.40" height="7.25" fill="#d9d9d9"/>
<rect x="148.08" y="453.68" width="3.40" height="7.25" fill="#d9d9d9"/>
<rect x="152.01" y="453.68" width="3.40" height="7.25" fill="#d9d9d9"/>
<rect x="155.95" y="453.68" width="3.40" height="7.25" fill="#d9d9d9"/>
<rect x="155.95" y="453.68" width="3.40" height="7.25" fill="#f5ea14"/>
<rect x="159.88" y="453.68" width="3.40" height="7.25" fill="#d9d9d9"/>
<rect x="163.82" y="453.68" width="3.40" height="7.25" fill="#d9d9d9"/>
<rect x="167.75" y="453.68" width="3.40" height="7.25" fill="#d9d9d9"/>
<rect x="171.69" y="453.68" width="3.40" height="7.25" fill="#d9d9d9"/>
<rect x="175.62" y="453.68" width="3.40" height="7.25" fill="#d9d9d9"/>
<rect x="179.56" y="453.68" width="3.40" height="7.25" fill="#d9d9d9"/>
<rect x="183.50" y="453.68" width="3.40" height="7.25" fill="#d9d9d9"/>
<rect x="187.43" y="453.68" width="3.40" height="7.25" fill="#d9d9d9"/>
<rect x="191.37" y="453.68" width="3.40" height="7.25" fill="#d9d9d9"/>
<rect x="195.30" y="453.68" width="3.40" height="7.25" fill="#d9d9d9"/>
<rect x="199.24" y="453.68" width="3.40" height="7.25" fill="#d9d9d9"/>
<rect x="203.17" y="453.68" width="3.40" height="7.25" fill="#d9d9d9"/>
<rect x="207.10" y="453.68" width="3.40" height="7.25" fill="#d9d9d9"/>
<rect x="207.10" y="453.68" width="3.40" height="7.25" fill="#e31a1c"/>
<rect x="211.04" y="453.68" width="3.40" height="7.25" fill="#d9d9d9"/>
<rect x="214.97" y="453.68" width="3.40" height="7.25" fill="#d9d9d9"/>
<rect x="218.91" y="453.68" width="3.40" height="7.25" fill="#d9d9d9"/>
<rect x="222.84" y="453.68" width="3.40" height="7.25" fill="#d9d9d9"/>
<rect x="226.78" y="453.68" width="3.40" height="7.25" fill="#d9d9d9"/>
<text x="232.80" y="461.01" font-size="8.680" fill="#231f20" transform="translate(232.80 0) scale(0.8929 1) translate(-232.80 0)" stroke="#231f20" stroke-width="0.15">USP7</text>
<rect x="77.25" y="461.75" width="3.40" height="7.25" fill="#d9d9d9"/>
<rect x="81.19" y="461.75" width="3.40" height="7.25" fill="#d9d9d9"/>
<rect x="85.12" y="461.75" width="3.40" height="7.25" fill="#d9d9d9"/>
<rect x="89.06" y="461.75" width="3.40" height="7.25" fill="#d9d9d9"/>
<rect x="92.99" y="461.75" width="3.40" height="7.25" fill="#d9d9d9"/>
<rect x="96.92" y="461.75" width="3.40" height="7.25" fill="#d9d9d9"/>
<rect x="100.86" y="461.75" width="3.40" height="7.25" fill="#d9d9d9"/>
<rect x="104.80" y="461.75" width="3.40" height="7.25" fill="#d9d9d9"/>
<rect x="108.73" y="461.75" width="3.40" height="7.25" fill="#d9d9d9"/>
<rect x="112.66" y="461.75" width="3.40" height="7.25" fill="#d9d9d9"/>
<rect x="116.60" y="461.75" width="3.40" height="7.25" fill="#d9d9d9"/>
<rect x="120.53" y="461.75" width="3.40" height="7.25" fill="#d9d9d9"/>
<rect x="124.47" y="461.75" width="3.40" height="7.25" fill="#d9d9d9"/>
<rect x="128.41" y="461.75" width="3.40" height="7.25" fill="#d9d9d9"/>
<rect x="132.34" y="461.75" width="3.40" height="7.25" fill="#d9d9d9"/>
<rect x="136.28" y="461.75" width="3.40" height="7.25" fill="#d9d9d9"/>
<rect x="140.21" y="461.75" width="3.40" height="7.25" fill="#d9d9d9"/>
<rect x="144.14" y="461.75" width="3.40" height="7.25" fill="#d9d9d9"/>
<rect x="148.08" y="461.75" width="3.40" height="7.25" fill="#d9d9d9"/>
<rect x="152.01" y="461.75" width="3.40" height="7.25" fill="#d9d9d9"/>
<rect x="155.95" y="461.75" width="3.40" height="7.25" fill="#d9d9d9"/>
<rect x="159.88" y="461.75" width="3.40" height="7.25" fill="#d9d9d9"/>
<rect x="163.82" y="461.75" width="3.40" height="7.25" fill="#d9d9d9"/>
<rect x="167.75" y="461.75" width="3.40" height="7.25" fill="#d9d9d9"/>
<rect x="171.69" y="461.75" width="3.40" height="7.25" fill="#d9d9d9"/>
<rect x="175.62" y="461.75" width="3.40" height="7.25" fill="#d9d9d9"/>
<rect x="179.56" y="461.75" width="3.40" height="7.25" fill="#d9d9d9"/>
<rect x="183.50" y="461.75" width="3.40" height="7.25" fill="#d9d9d9"/>
<rect x="183.50" y="461.75" width="3.40" height="2.47" fill="#111111"/>
<rect x="183.50" y="464.17" width="3.40" height="2.47" fill="#cab2d6"/>
<rect x="183.50" y="466.58" width="3.40" height="2.42" fill="#f5ea14"/>
<rect x="187.43" y="461.75" width="3.40" height="7.25" fill="#d9d9d9"/>
<rect x="191.37" y="461.75" width="3.40" height="7.25" fill="#d9d9d9"/>
<rect x="195.30" y="461.75" width="3.40" height="7.25" fill="#d9d9d9"/>
<rect x="199.24" y="461.75" width="3.40" height="7.25" fill="#d9d9d9"/>
<rect x="203.17" y="461.75" width="3.40" height="7.25" fill="#d9d9d9"/>
<rect x="207.10" y="461.75" width="3.40" height="7.25" fill="#d9d9d9"/>
<rect x="211.04" y="461.75" width="3.40" height="7.25" fill="#d9d9d9"/>
<rect x="214.97" y="461.75" width="3.40" height="7.25" fill="#d9d9d9"/>
<rect x="214.97" y="461.75" width="3.40" height="3.67" fill="#111111"/>
<rect x="214.97" y="465.37" width="3.40" height="3.62" fill="#cab2d6"/>
<rect x="218.91" y="461.75" width="3.40" height="7.25" fill="#d9d9d9"/>
<rect x="218.91" y="461.75" width="3.40" height="3.67" fill="#111111"/>
<rect x="218.91" y="465.37" width="3.40" height="3.62" fill="#f5ea14"/>
<rect x="222.84" y="461.75" width="3.40" height="7.25" fill="#d9d9d9"/>
<rect x="226.78" y="461.75" width="3.40" height="7.25" fill="#d9d9d9"/>
<text x="232.80" y="469.08" font-size="8.680" fill="#231f20" transform="translate(232.80 0) scale(0.8929 1) translate(-232.80 0)" stroke="#231f20" stroke-width="0.15">CDKN2A;MTAP</text>
<rect x="77.25" y="469.82" width="3.40" height="7.25" fill="#d9d9d9"/>
<rect x="81.19" y="469.82" width="3.40" height="7.25" fill="#d9d9d9"/>
<rect x="85.12" y="469.82" width="3.40" height="7.25" fill="#d9d9d9"/>
<rect x="89.06" y="469.82" width="3.40" height="7.25" fill="#d9d9d9"/>
<rect x="92.99" y="469.82" width="3.40" height="7.25" fill="#d9d9d9"/>
<rect x="96.92" y="469.82" width="3.40" height="7.25" fill="#d9d9d9"/>
<rect x="96.92" y="469.82" width="3.40" height="7.25" fill="#b15928"/>
<rect x="100.86" y="469.82" width="3.40" height="7.25" fill="#d9d9d9"/>
<rect x="104.80" y="469.82" width="3.40" height="7.25" fill="#d9d9d9"/>
<rect x="108.73" y="469.82" width="3.40" height="7.25" fill="#d9d9d9"/>
<rect x="112.66" y="469.82" width="3.40" height="7.25" fill="#d9d9d9"/>
<rect x="116.60" y="469.82" width="3.40" height="7.25" fill="#d9d9d9"/>
<rect x="120.53" y="469.82" width="3.40" height="7.25" fill="#d9d9d9"/>
<rect x="124.47" y="469.82" width="3.40" height="7.25" fill="#d9d9d9"/>
<rect x="128.41" y="469.82" width="3.40" height="7.25" fill="#d9d9d9"/>
<rect x="132.34" y="469.82" width="3.40" height="7.25" fill="#d9d9d9"/>
<rect x="136.28" y="469.82" width="3.40" height="7.25" fill="#d9d9d9"/>
<rect x="140.21" y="469.82" width="3.40" height="7.25" fill="#d9d9d9"/>
<rect x="144.14" y="469.82" width="3.40" height="7.25" fill="#d9d9d9"/>
<rect x="148.08" y="469.82" width="3.40" height="7.25" fill="#d9d9d9"/>
<rect x="152.01" y="469.82" width="3.40" height="7.25" fill="#d9d9d9"/>
<rect x="155.95" y="469.82" width="3.40" height="7.25" fill="#d9d9d9"/>
<rect x="159.88" y="469.82" width="3.40" height="7.25" fill="#d9d9d9"/>
<rect x="163.82" y="469.82" width="3.40" height="7.25" fill="#d9d9d9"/>
<rect x="167.75" y="469.82" width="3.40" height="7.25" fill="#d9d9d9"/>
<rect x="171.69" y="469.82" width="3.40" height="7.25" fill="#d9d9d9"/>
<rect x="175.62" y="469.82" width="3.40" height="7.25" fill="#d9d9d9"/>
<rect x="179.56" y="469.82" width="3.40" height="7.25" fill="#d9d9d9"/>
<rect x="183.50" y="469.82" width="3.40" height="7.25" fill="#d9d9d9"/>
<rect x="183.50" y="469.82" width="3.40" height="7.25" fill="#f5ea14"/>
<rect x="187.43" y="469.82" width="3.40" height="7.25" fill="#d9d9d9"/>
<rect x="191.37" y="469.82" width="3.40" height="7.25" fill="#d9d9d9"/>
<rect x="195.30" y="469.82" width="3.40" height="7.25" fill="#d9d9d9"/>
<rect x="199.24" y="469.82" width="3.40" height="7.25" fill="#d9d9d9"/>
<rect x="203.17" y="469.82" width="3.40" height="7.25" fill="#d9d9d9"/>
<rect x="207.10" y="469.82" width="3.40" height="7.25" fill="#d9d9d9"/>
<rect x="211.04" y="469.82" width="3.40" height="7.25" fill="#d9d9d9"/>
<rect x="214.97" y="469.82" width="3.40" height="7.25" fill="#d9d9d9"/>
<rect x="218.91" y="469.82" width="3.40" height="7.25" fill="#d9d9d9"/>
<rect x="222.84" y="469.82" width="3.40" height="7.25" fill="#d9d9d9"/>
<rect x="222.84" y="469.82" width="3.40" height="7.25" fill="#cab2d6"/>
<rect x="226.78" y="469.82" width="3.40" height="7.25" fill="#d9d9d9"/>
<text x="232.80" y="477.15" font-size="8.680" fill="#231f20" transform="translate(232.80 0) scale(0.8929 1) translate(-232.80 0)" stroke="#231f20" stroke-width="0.15">CDK14</text>
<rect x="77.25" y="478.30" width="3.40" height="7.25" fill="#d9d9d9"/>
<rect x="77.25" y="478.30" width="3.40" height="1.86" fill="#a6cee3"/>
<rect x="77.25" y="480.11" width="3.40" height="1.86" fill="#6a3d9a"/>
<rect x="77.25" y="481.93" width="3.40" height="1.86" fill="#111111"/>
<rect x="77.25" y="483.74" width="3.40" height="1.81" fill="#f5ea14"/>
<rect x="81.19" y="478.30" width="3.40" height="7.25" fill="#d9d9d9"/>
<rect x="81.19" y="478.30" width="3.40" height="7.25" fill="#f6999d"/>
<rect x="85.12" y="478.30" width="3.40" height="7.25" fill="#d9d9d9"/>
<rect x="85.12" y="478.30" width="3.40" height="7.25" fill="#f6999d"/>
<rect x="89.06" y="478.30" width="3.40" height="7.25" fill="#d9d9d9"/>
<rect x="89.06" y="478.30" width="3.40" height="3.67" fill="#fdbf6f"/>
<rect x="89.06" y="481.93" width="3.40" height="3.62" fill="#e31a1c"/>
<rect x="92.99" y="478.30" width="3.40" height="7.25" fill="#d9d9d9"/>
<rect x="92.99" y="478.30" width="3.40" height="7.25" fill="#f5ea14"/>
<rect x="96.92" y="478.30" width="3.40" height="7.25" fill="#d9d9d9"/>
<rect x="96.92" y="478.30" width="3.40" height="3.67" fill="#fdbf6f"/>
<rect x="96.92" y="481.93" width="3.40" height="3.62" fill="#e31a1c"/>
<rect x="100.86" y="478.30" width="3.40" height="7.25" fill="#d9d9d9"/>
<rect x="104.80" y="478.30" width="3.40" height="7.25" fill="#d9d9d9"/>
<rect x="104.80" y="478.30" width="3.40" height="3.67" fill="#fdbf6f"/>
<rect x="104.80" y="481.93" width="3.40" height="3.62" fill="#f6999d"/>
<rect x="108.73" y="478.30" width="3.40" height="7.25" fill="#d9d9d9"/>
<rect x="112.66" y="478.30" width="3.40" height="7.25" fill="#d9d9d9"/>
<rect x="116.60" y="478.30" width="3.40" height="7.25" fill="#d9d9d9"/>
<rect x="120.53" y="478.30" width="3.40" height="7.25" fill="#d9d9d9"/>
<rect x="120.53" y="478.30" width="3.40" height="7.25" fill="#f6999d"/>
<rect x="124.47" y="478.30" width="3.40" height="7.25" fill="#d9d9d9"/>
<rect x="124.47" y="478.30" width="3.40" height="7.25" fill="#a6cee3"/>
<rect x="128.41" y="478.30" width="3.40" height="7.25" fill="#d9d9d9"/>
<rect x="128.41" y="478.30" width="3.40" height="7.25" fill="#f6999d"/>
<rect x="132.34" y="478.30" width="3.40" height="7.25" fill="#d9d9d9"/>
<rect x="136.28" y="478.30" width="3.40" height="7.25" fill="#d9d9d9"/>
<rect x="140.21" y="478.30" width="3.40" height="7.25" fill="#d9d9d9"/>
<rect x="140.21" y="478.30" width="3.40" height="7.25" fill="#f6999d"/>
<rect x="144.14" y="478.30" width="3.40" height="7.25" fill="#d9d9d9"/>
<rect x="144.14" y="478.30" width="3.40" height="3.67" fill="#fdbf6f"/>
<rect x="144.14" y="481.93" width="3.40" height="3.62" fill="#a6cee3"/>
<rect x="148.08" y="478.30" width="3.40" height="7.25" fill="#d9d9d9"/>
<rect x="148.08" y="478.30" width="3.40" height="3.67" fill="#1f78b4"/>
<rect x="148.08" y="481.93" width="3.40" height="3.62" fill="#08392a"/>
<rect x="152.01" y="478.30" width="3.40" height="7.25" fill="#d9d9d9"/>
<rect x="152.01" y="478.30" width="3.40" height="3.67" fill="#111111"/>
<rect x="152.01" y="481.93" width="3.40" height="3.62" fill="#f6999d"/>
<rect x="155.95" y="478.30" width="3.40" height="7.25" fill="#d9d9d9"/>
<rect x="155.95" y="478.30" width="3.40" height="3.67" fill="#fdbf6f"/>
<rect x="155.95" y="481.93" width="3.40" height="3.62" fill="#f6999d"/>
<rect x="159.88" y="478.30" width="3.40" height="7.25" fill="#d9d9d9"/>
<rect x="159.88" y="478.30" width="3.40" height="3.67" fill="#fdbf6f"/>
<rect x="159.88" y="481.93" width="3.40" height="3.62" fill="#f6999d"/>
<rect x="163.82" y="478.30" width="3.40" height="7.25" fill="#d9d9d9"/>
<rect x="163.82" y="478.30" width="3.40" height="7.25" fill="#f5ea14"/>
<rect x="167.75" y="478.30" width="3.40" height="7.25" fill="#d9d9d9"/>
<rect x="167.75" y="478.30" width="3.40" height="3.67" fill="#fdbf6f"/>
<rect x="167.75" y="481.93" width="3.40" height="3.62" fill="#a6cee3"/>
<rect x="171.69" y="478.30" width="3.40" height="7.25" fill="#d9d9d9"/>
<rect x="171.69" y="478.30" width="3.40" height="7.25" fill="#f6999d"/>
<rect x="175.62" y="478.30" width="3.40" height="7.25" fill="#d9d9d9"/>
<rect x="175.62" y="478.30" width="3.40" height="3.67" fill="#fdbf6f"/>
<rect x="175.62" y="481.93" width="3.40" height="3.62" fill="#f6999d"/>
<rect x="179.56" y="478.30" width="3.40" height="7.25" fill="#d9d9d9"/>
<rect x="183.50" y="478.30" width="3.40" height="7.25" fill="#d9d9d9"/>
<rect x="187.43" y="478.30" width="3.40" height="7.25" fill="#d9d9d9"/>
<rect x="191.37" y="478.30" width="3.40" height="7.25" fill="#d9d9d9"/>
<rect x="195.30" y="478.30" width="3.40" height="7.25" fill="#d9d9d9"/>
<rect x="199.24" y="478.30" width="3.40" height="7.25" fill="#d9d9d9"/>
<rect x="203.17" y="478.30" width="3.40" height="7.25" fill="#d9d9d9"/>
<rect x="203.17" y="478.30" width="3.40" height="3.67" fill="#fdbf6f"/>
<rect x="203.17" y="481.93" width="3.40" height="3.62" fill="#f6999d"/>
<rect x="207.10" y="478.30" width="3.40" height="7.25" fill="#d9d9d9"/>
<rect x="207.10" y="478.30" width="3.40" height="3.67" fill="#08392a"/>
<rect x="207.10" y="481.93" width="3.40" height="3.62" fill="#f6999d"/>
<rect x="211.04" y="478.30" width="3.40" height="7.25" fill="#d9d9d9"/>
<rect x="211.04" y="478.30" width="3.40" height="7.25" fill="#e31a1c"/>
<rect x="214.97" y="478.30" width="3.40" height="7.25" fill="#d9d9d9"/>
<rect x="214.97" y="478.30" width="3.40" height="3.67" fill="#fdbf6f"/>
<rect x="214.97" y="481.93" width="3.40" height="3.62" fill="#f6999d"/>
<rect x="218.91" y="478.30" width="3.40" height="7.25" fill="#d9d9d9"/>
<rect x="218.91" y="478.30" width="3.40" height="3.67" fill="#08392a"/>
<rect x="218.91" y="481.93" width="3.40" height="3.62" fill="#f6999d"/>
<rect x="222.84" y="478.30" width="3.40" height="7.25" fill="#d9d9d9"/>
<rect x="226.78" y="478.30" width="3.40" height="7.25" fill="#d9d9d9"/>
<rect x="226.78" y="478.30" width="3.40" height="3.67" fill="#111111"/>
<rect x="226.78" y="481.93" width="3.40" height="3.62" fill="#f5ea14"/>
<text x="232.80" y="485.63" font-size="8.680" fill="#231f20" transform="translate(232.80 0) scale(0.8929 1) translate(-232.80 0)" stroke="#231f20" stroke-width="0.15">ID3</text>
<rect x="77.25" y="486.37" width="3.40" height="7.25" fill="#d9d9d9"/>
<rect x="77.25" y="486.37" width="3.40" height="7.25" fill="#f6999d"/>
<rect x="81.19" y="486.37" width="3.40" height="7.25" fill="#d9d9d9"/>
<rect x="85.12" y="486.37" width="3.40" height="7.25" fill="#d9d9d9"/>
<rect x="89.06" y="486.37" width="3.40" height="7.25" fill="#d9d9d9"/>
<rect x="92.99" y="486.37" width="3.40" height="7.25" fill="#d9d9d9"/>
<rect x="96.92" y="486.37" width="3.40" height="7.25" fill="#d9d9d9"/>
<rect x="100.86" y="486.37" width="3.40" height="7.25" fill="#d9d9d9"/>
<rect x="104.80" y="486.37" width="3.40" height="7.25" fill="#d9d9d9"/>
<rect x="104.80" y="486.37" width="3.40" height="7.25" fill="#f6999d"/>
<rect x="108.73" y="486.37" width="3.40" height="7.25" fill="#d9d9d9"/>
<rect x="112.66" y="486.37" width="3.40" height="7.25" fill="#d9d9d9"/>
<rect x="116.60" y="486.37" width="3.40" height="7.25" fill="#d9d9d9"/>
<rect x="116.60" y="486.37" width="3.40" height="7.25" fill="#f6999d"/>
<rect x="120.53" y="486.37" width="3.40" height="7.25" fill="#d9d9d9"/>
<rect x="120.53" y="486.37" width="3.40" height="7.25" fill="#f6999d"/>
<rect x="124.47" y="486.37" width="3.40" height="7.25" fill="#d9d9d9"/>
<rect x="128.41" y="486.37" width="3.40" height="7.25" fill="#d9d9d9"/>
<rect x="132.34" y="486.37" width="3.40" height="7.25" fill="#d9d9d9"/>
<rect x="136.28" y="486.37" width="3.40" height="7.25" fill="#d9d9d9"/>
<rect x="140.21" y="486.37" width="3.40" height="7.25" fill="#d9d9d9"/>
<rect x="144.14" y="486.37" width="3.40" height="7.25" fill="#d9d9d9"/>
<rect x="148.08" y="486.37" width="3.40" height="7.25" fill="#d9d9d9"/>
<rect x="152.01" y="486.37" width="3.40" height="7.25" fill="#d9d9d9"/>
<rect x="155.95" y="486.37" width="3.40" height="7.25" fill="#d9d9d9"/>
<rect x="159.88" y="486.37" width="3.40" height="7.25" fill="#d9d9d9"/>
<rect x="163.82" y="486.37" width="3.40" height="7.25" fill="#d9d9d9"/>
<rect x="163.82" y="486.37" width="3.40" height="7.25" fill="#f6999d"/>
<rect x="167.75" y="486.37" width="3.40" height="7.25" fill="#d9d9d9"/>
<rect x="171.69" y="486.37" width="3.40" height="7.25" fill="#d9d9d9"/>
<rect x="175.62" y="486.37" width="3.40" height="7.25" fill="#d9d9d9"/>
<rect x="179.56" y="486.37" width="3.40" height="7.25" fill="#d9d9d9"/>
<rect x="183.50" y="486.37" width="3.40" height="7.25" fill="#d9d9d9"/>
<rect x="187.43" y="486.37" width="3.40" height="7.25" fill="#d9d9d9"/>
<rect x="191.37" y="486.37" width="3.40" height="7.25" fill="#d9d9d9"/>
<rect x="195.30" y="486.37" width="3.40" height="7.25" fill="#d9d9d9"/>
<rect x="199.24" y="486.37" width="3.40" height="7.25" fill="#d9d9d9"/>
<rect x="203.17" y="486.37" width="3.40" height="7.25" fill="#d9d9d9"/>
<rect x="207.10" y="486.37" width="3.40" height="7.25" fill="#d9d9d9"/>
<rect x="211.04" y="486.37" width="3.40" height="7.25" fill="#d9d9d9"/>
<rect x="214.97" y="486.37" width="3.40" height="7.25" fill="#d9d9d9"/>
<rect x="218.91" y="486.37" width="3.40" height="7.25" fill="#d9d9d9"/>
<rect x="222.84" y="486.37" width="3.40" height="7.25" fill="#d9d9d9"/>
<rect x="226.78" y="486.37" width="3.40" height="7.25" fill="#d9d9d9"/>
<rect x="226.78" y="486.37" width="3.40" height="7.25" fill="#f6999d"/>
<text x="232.80" y="493.70" font-size="8.680" fill="#231f20" transform="translate(232.80 0) scale(0.8929 1) translate(-232.80 0)" stroke="#231f20" stroke-width="0.15">FOXO1</text>
<rect x="77.25" y="494.44" width="3.40" height="7.25" fill="#d9d9d9"/>
<rect x="77.25" y="494.44" width="3.40" height="7.25" fill="#e31a1c"/>
<rect x="81.19" y="494.44" width="3.40" height="7.25" fill="#d9d9d9"/>
<rect x="85.12" y="494.44" width="3.40" height="7.25" fill="#d9d9d9"/>
<rect x="89.06" y="494.44" width="3.40" height="7.25" fill="#d9d9d9"/>
<rect x="92.99" y="494.44" width="3.40" height="7.25" fill="#d9d9d9"/>
<rect x="96.92" y="494.44" width="3.40" height="7.25" fill="#d9d9d9"/>
<rect x="100.86" y="494.44" width="3.40" height="7.25" fill="#d9d9d9"/>
<rect x="104.80" y="494.44" width="3.40" height="7.25" fill="#d9d9d9"/>
<rect x="108.73" y="494.44" width="3.40" height="7.25" fill="#d9d9d9"/>
<rect x="112.66" y="494.44" width="3.40" height="7.25" fill="#d9d9d9"/>
<rect x="116.60" y="494.44" width="3.40" height="7.25" fill="#d9d9d9"/>
<rect x="120.53" y="494.44" width="3.40" height="7.25" fill="#d9d9d9"/>
<rect x="124.47" y="494.44" width="3.40" height="7.25" fill="#d9d9d9"/>
<rect x="128.41" y="494.44" width="3.40" height="7.25" fill="#d9d9d9"/>
<rect x="128.41" y="494.44" width="3.40" height="7.25" fill="#e31a1c"/>
<rect x="132.34" y="494.44" width="3.40" height="7.25" fill="#d9d9d9"/>
<rect x="136.28" y="494.44" width="3.40" height="7.25" fill="#d9d9d9"/>
<rect x="140.21" y="494.44" width="3.40" height="7.25" fill="#d9d9d9"/>
<rect x="144.14" y="494.44" width="3.40" height="7.25" fill="#d9d9d9"/>
<rect x="148.08" y="494.44" width="3.40" height="7.25" fill="#d9d9d9"/>
<rect x="152.01" y="494.44" width="3.40" height="7.25" fill="#d9d9d9"/>
<rect x="155.95" y="494.44" width="3.40" height="7.25" fill="#d9d9d9"/>
<rect x="159.88" y="494.44" width="3.40" height="7.25" fill="#d9d9d9"/>
<rect x="163.82" y="494.44" width="3.40" height="7.25" fill="#d9d9d9"/>
<rect x="163.82" y="494.44" width="3.40" height="7.25" fill="#f6999d"/>
<rect x="167.75" y="494.44" width="3.40" height="7.25" fill="#d9d9d9"/>
<rect x="171.69" y="494.44" width="3.40" height="7.25" fill="#d9d9d9"/>
<rect x="175.62" y="494.44" width="3.40" height="7.25" fill="#d9d9d9"/>
<rect x="175.62" y="494.44" width="3.40" height="7.25" fill="#f6999d"/>
<rect x="179.56" y="494.44" width="3.40" height="7.25" fill="#d9d9d9"/>
<rect x="183.50" y="494.44" width="3.40" height="7.25" fill="#d9d9d9"/>
<rect x="183.50" y="494.44" width="3.40" height="7.25" fill="#a6cee3"/>
<rect x="187.43" y="494.44" width="3.40" height="7.25" fill="#d9d9d9"/>
<rect x="191.37" y="494.44" width="3.40" height="7.25" fill="#d9d9d9"/>
<rect x="191.37" y="494.44" width="3.40" height="7.25" fill="#f6999d"/>
<rect x="195.30" y="494.44" width="3.40" height="7.25" fill="#d9d9d9"/>
<rect x="199.24" y="494.44" width="3.40" height="7.25" fill="#d9d9d9"/>
<rect x="203.17" y="494.44" width="3.40" height="7.25" fill="#d9d9d9"/>
<rect x="207.10" y="494.44" width="3.40" height="7.25" fill="#d9d9d9"/>
<rect x="211.04" y="494.44" width="3.40" height="7.25" fill="#d9d9d9"/>
<rect x="214.97" y="494.44" width="3.40" height="7.25" fill="#d9d9d9"/>
<rect x="218.91" y="494.44" width="3.40" height="7.25" fill="#d9d9d9"/>
<rect x="222.84" y="494.44" width="3.40" height="7.25" fill="#d9d9d9"/>
<rect x="226.78" y="494.44" width="3.40" height="7.25" fill="#d9d9d9"/>
<text x="232.80" y="501.77" font-size="8.680" fill="#231f20" transform="translate(232.80 0) scale(0.8929 1) translate(-232.80 0)" stroke="#231f20" stroke-width="0.15">TBL1XR1</text>
<rect x="77.25" y="502.51" width="3.40" height="7.25" fill="#d9d9d9"/>
<rect x="81.19" y="502.51" width="3.40" height="7.25" fill="#d9d9d9"/>
<rect x="85.12" y="502.51" width="3.40" height="7.25" fill="#d9d9d9"/>
<rect x="89.06" y="502.51" width="3.40" height="7.25" fill="#d9d9d9"/>
<rect x="92.99" y="502.51" width="3.40" height="7.25" fill="#d9d9d9"/>
<rect x="96.92" y="502.51" width="3.40" height="7.25" fill="#d9d9d9"/>
<rect x="100.86" y="502.51" width="3.40" height="7.25" fill="#d9d9d9"/>
<rect x="104.80" y="502.51" width="3.40" height="7.25" fill="#d9d9d9"/>
<rect x="108.73" y="502.51" width="3.40" height="7.25" fill="#d9d9d9"/>
<rect x="112.66" y="502.51" width="3.40" height="7.25" fill="#d9d9d9"/>
<rect x="116.60" y="502.51" width="3.40" height="7.25" fill="#d9d9d9"/>
<rect x="120.53" y="502.51" width="3.40" height="7.25" fill="#d9d9d9"/>
<rect x="124.47" y="502.51" width="3.40" height="7.25" fill="#d9d9d9"/>
<rect x="128.41" y="502.51" width="3.40" height="7.25" fill="#d9d9d9"/>
<rect x="132.34" y="502.51" width="3.40" height="7.25" fill="#d9d9d9"/>
<rect x="132.34" y="502.51" width="3.40" height="7.25" fill="#f6999d"/>
<rect x="136.28" y="502.51" width="3.40" height="7.25" fill="#d9d9d9"/>
<rect x="140.21" y="502.51" width="3.40" height="7.25" fill="#d9d9d9"/>
<rect x="144.14" y="502.51" width="3.40" height="7.25" fill="#d9d9d9"/>
<rect x="148.08" y="502.51" width="3.40" height="7.25" fill="#d9d9d9"/>
<rect x="152.01" y="502.51" width="3.40" height="7.25" fill="#d9d9d9"/>
<rect x="155.95" y="502.51" width="3.40" height="7.25" fill="#d9d9d9"/>
<rect x="159.88" y="502.51" width="3.40" height="7.25" fill="#d9d9d9"/>
<rect x="163.82" y="502.51" width="3.40" height="7.25" fill="#d9d9d9"/>
<rect x="167.75" y="502.51" width="3.40" height="7.25" fill="#d9d9d9"/>
<rect x="171.69" y="502.51" width="3.40" height="7.25" fill="#d9d9d9"/>
<rect x="175.62" y="502.51" width="3.40" height="7.25" fill="#d9d9d9"/>
<rect x="175.62" y="502.51" width="3.40" height="7.25" fill="#f6999d"/>
<rect x="179.56" y="502.51" width="3.40" height="7.25" fill="#d9d9d9"/>
<rect x="183.50" y="502.51" width="3.40" height="7.25" fill="#d9d9d9"/>
<rect x="187.43" y="502.51" width="3.40" height="7.25" fill="#d9d9d9"/>
<rect x="191.37" y="502.51" width="3.40" height="7.25" fill="#d9d9d9"/>
<rect x="191.37" y="502.51" width="3.40" height="7.25" fill="#f6999d"/>
<rect x="195.30" y="502.51" width="3.40" height="7.25" fill="#d9d9d9"/>
<rect x="199.24" y="502.51" width="3.40" height="7.25" fill="#d9d9d9"/>
<rect x="199.24" y="502.51" width="3.40" height="7.25" fill="#f6999d"/>
<rect x="203.17" y="502.51" width="3.40" height="7.25" fill="#d9d9d9"/>
<rect x="207.10" y="502.51" width="3.40" height="7.25" fill="#d9d9d9"/>
<rect x="211.04" y="502.51" width="3.40" height="7.25" fill="#d9d9d9"/>
<rect x="214.97" y="502.51" width="3.40" height="7.25" fill="#d9d9d9"/>
<rect x="218.91" y="502.51" width="3.40" height="7.25" fill="#d9d9d9"/>
<rect x="222.84" y="502.51" width="3.40" height="7.25" fill="#d9d9d9"/>
<rect x="226.78" y="502.51" width="3.40" height="7.25" fill="#d9d9d9"/>
<text x="232.80" y="509.84" font-size="8.680" fill="#231f20" transform="translate(232.80 0) scale(0.8929 1) translate(-232.80 0)" stroke="#231f20" stroke-width="0.15">TCF3</text>
<rect x="77.25" y="510.58" width="3.40" height="7.25" fill="#d9d9d9"/>
<rect x="81.19" y="510.58" width="3.40" height="7.25" fill="#d9d9d9"/>
<rect x="85.12" y="510.58" width="3.40" height="7.25" fill="#d9d9d9"/>
<rect x="89.06" y="510.58" width="3.40" height="7.25" fill="#d9d9d9"/>
<rect x="92.99" y="510.58" width="3.40" height="7.25" fill="#d9d9d9"/>
<rect x="96.92" y="510.58" width="3.40" height="7.25" fill="#d9d9d9"/>
<rect x="100.86" y="510.58" width="3.40" height="7.25" fill="#d9d9d9"/>
<rect x="104.80" y="510.58" width="3.40" height="7.25" fill="#d9d9d9"/>
<rect x="108.73" y="510.58" width="3.40" height="7.25" fill="#d9d9d9"/>
<rect x="112.66" y="510.58" width="3.40" height="7.25" fill="#d9d9d9"/>
<rect x="116.60" y="510.58" width="3.40" height="7.25" fill="#d9d9d9"/>
<rect x="116.60" y="510.58" width="3.40" height="7.25" fill="#e31a1c"/>
<rect x="120.53" y="510.58" width="3.40" height="7.25" fill="#d9d9d9"/>
<rect x="124.47" y="510.58" width="3.40" height="7.25" fill="#d9d9d9"/>
<rect x="128.41" y="510.58" width="3.40" height="7.25" fill="#d9d9d9"/>
<rect x="132.34" y="510.58" width="3.40" height="7.25" fill="#d9d9d9"/>
<rect x="136.28" y="510.58" width="3.40" height="7.25" fill="#d9d9d9"/>
<rect x="140.21" y="510.58" width="3.40" height="7.25" fill="#d9d9d9"/>
<rect x="144.14" y="510.58" width="3.40" height="7.25" fill="#d9d9d9"/>
<rect x="148.08" y="510.58" width="3.40" height="7.25" fill="#d9d9d9"/>
<rect x="152.01" y="510.58" width="3.40" height="7.25" fill="#d9d9d9"/>
<rect x="155.95" y="510.58" width="3.40" height="7.25" fill="#d9d9d9"/>
<rect x="159.88" y="510.58" width="3.40" height="7.25" fill="#d9d9d9"/>
<rect x="163.82" y="510.58" width="3.40" height="7.25" fill="#d9d9d9"/>
<rect x="167.75" y="510.58" width="3.40" height="7.25" fill="#d9d9d9"/>
<rect x="171.69" y="510.58" width="3.40" height="7.25" fill="#d9d9d9"/>
<rect x="175.62" y="510.58" width="3.40" height="7.25" fill="#d9d9d9"/>
<rect x="179.56" y="510.58" width="3.40" height="7.25" fill="#d9d9d9"/>
<rect x="183.50" y="510.58" width="3.40" height="7.25" fill="#d9d9d9"/>
<rect x="187.43" y="510.58" width="3.40" height="7.25" fill="#d9d9d9"/>
<rect x="191.37" y="510.58" width="3.40" height="7.25" fill="#d9d9d9"/>
<rect x="195.30" y="510.58" width="3.40" height="7.25" fill="#d9d9d9"/>
<rect x="195.30" y="510.58" width="3.40" height="3.67" fill="#08392a"/>
<rect x="195.30" y="514.20" width="3.40" height="3.62" fill="#f5ea14"/>
<rect x="199.24" y="510.58" width="3.40" height="7.25" fill="#d9d9d9"/>
<rect x="199.24" y="510.58" width="3.40" height="3.67" fill="#08392a"/>
<rect x="199.24" y="514.20" width="3.40" height="3.62" fill="#f5ea14"/>
<rect x="203.17" y="510.58" width="3.40" height="7.25" fill="#d9d9d9"/>
<rect x="207.10" y="510.58" width="3.40" height="7.25" fill="#d9d9d9"/>
<rect x="211.04" y="510.58" width="3.40" height="7.25" fill="#d9d9d9"/>
<rect x="214.97" y="510.58" width="3.40" height="7.25" fill="#d9d9d9"/>
<rect x="218.91" y="510.58" width="3.40" height="7.25" fill="#d9d9d9"/>
<rect x="222.84" y="510.58" width="3.40" height="7.25" fill="#d9d9d9"/>
<rect x="226.78" y="510.58" width="3.40" height="7.25" fill="#d9d9d9"/>
<text x="232.80" y="517.91" font-size="8.680" fill="#231f20" transform="translate(232.80 0) scale(0.8929 1) translate(-232.80 0)" stroke="#231f20" stroke-width="0.15">GAB1</text>
<rect x="77.25" y="518.65" width="3.40" height="7.25" fill="#d9d9d9"/>
<rect x="77.25" y="518.65" width="3.40" height="7.25" fill="#f6999d"/>
<rect x="81.19" y="518.65" width="3.40" height="7.25" fill="#d9d9d9"/>
<rect x="85.12" y="518.65" width="3.40" height="7.25" fill="#d9d9d9"/>
<rect x="89.06" y="518.65" width="3.40" height="7.25" fill="#d9d9d9"/>
<rect x="92.99" y="518.65" width="3.40" height="7.25" fill="#d9d9d9"/>
<rect x="96.92" y="518.65" width="3.40" height="7.25" fill="#d9d9d9"/>
<rect x="100.86" y="518.65" width="3.40" height="7.25" fill="#d9d9d9"/>
<rect x="104.80" y="518.65" width="3.40" height="7.25" fill="#d9d9d9"/>
<rect x="108.73" y="518.65" width="3.40" height="7.25" fill="#d9d9d9"/>
<rect x="112.66" y="518.65" width="3.40" height="7.25" fill="#d9d9d9"/>
<rect x="116.60" y="518.65" width="3.40" height="7.25" fill="#d9d9d9"/>
<rect x="120.53" y="518.65" width="3.40" height="7.25" fill="#d9d9d9"/>
<rect x="124.47" y="518.65" width="3.40" height="7.25" fill="#d9d9d9"/>
<rect x="128.41" y="518.65" width="3.40" height="7.25" fill="#d9d9d9"/>
<rect x="132.34" y="518.65" width="3.40" height="7.25" fill="#d9d9d9"/>
<rect x="136.28" y="518.65" width="3.40" height="7.25" fill="#d9d9d9"/>
<rect x="140.21" y="518.65" width="3.40" height="7.25" fill="#d9d9d9"/>
<rect x="144.14" y="518.65" width="3.40" height="7.25" fill="#d9d9d9"/>
<rect x="148.08" y="518.65" width="3.40" height="7.25" fill="#d9d9d9"/>
<rect x="152.01" y="518.65" width="3.40" height="7.25" fill="#d9d9d9"/>
<rect x="155.95" y="518.65" width="3.40" height="7.25" fill="#d9d9d9"/>
<rect x="155.95" y="518.65" width="3.40" height="7.25" fill="#f5ea14"/>
<rect x="159.88" y="518.65" width="3.40" height="7.25" fill="#d9d9d9"/>
<rect x="163.82" y="518.65" width="3.40" height="7.25" fill="#d9d9d9"/>
<rect x="167.75" y="518.65" width="3.40" height="7.25" fill="#d9d9d9"/>
<rect x="171.69" y="518.65" width="3.40" height="7.25" fill="#d9d9d9"/>
<rect x="175.62" y="518.65" width="3.40" height="7.25" fill="#d9d9d9"/>
<rect x="179.56" y="518.65" width="3.40" height="7.25" fill="#d9d9d9"/>
<rect x="183.50" y="518.65" width="3.40" height="7.25" fill="#d9d9d9"/>
<rect x="187.43" y="518.65" width="3.40" height="7.25" fill="#d9d9d9"/>
<rect x="187.43" y="518.65" width="3.40" height="7.25" fill="#f6999d"/>
<rect x="191.37" y="518.65" width="3.40" height="7.25" fill="#d9d9d9"/>
<rect x="195.30" y="518.65" width="3.40" height="7.25" fill="#d9d9d9"/>
<rect x="199.24" y="518.65" width="3.40" height="7.25" fill="#d9d9d9"/>
<rect x="203.17" y="518.65" width="3.40" height="7.25" fill="#d9d9d9"/>
<rect x="207.10" y="518.65" width="3.40" height="7.25" fill="#d9d9d9"/>
<rect x="211.04" y="518.65" width="3.40" height="7.25" fill="#d9d9d9"/>
<rect x="214.97" y="518.65" width="3.40" height="7.25" fill="#d9d9d9"/>
<rect x="218.91" y="518.65" width="3.40" height="7.25" fill="#d9d9d9"/>
<rect x="222.84" y="518.65" width="3.40" height="7.25" fill="#d9d9d9"/>
<rect x="226.78" y="518.65" width="3.40" height="7.25" fill="#d9d9d9"/>
<text x="232.80" y="525.98" font-size="8.680" fill="#231f20" transform="translate(232.80 0) scale(0.8929 1) translate(-232.80 0)" stroke="#231f20" stroke-width="0.15">CARD11</text>
<rect x="77.25" y="527.60" width="3.40" height="7.25" fill="#d9d9d9"/>
<rect x="81.19" y="527.60" width="3.40" height="7.25" fill="#d9d9d9"/>
<rect x="85.12" y="527.60" width="3.40" height="7.25" fill="#d9d9d9"/>
<rect x="85.12" y="527.60" width="3.40" height="7.25" fill="#f6999d"/>
<rect x="89.06" y="527.60" width="3.40" height="7.25" fill="#d9d9d9"/>
<rect x="92.99" y="527.60" width="3.40" height="7.25" fill="#d9d9d9"/>
<rect x="96.92" y="527.60" width="3.40" height="7.25" fill="#d9d9d9"/>
<rect x="100.86" y="527.60" width="3.40" height="7.25" fill="#d9d9d9"/>
<rect x="100.86" y="527.60" width="3.40" height="7.25" fill="#a6cee3"/>
<rect x="104.80" y="527.60" width="3.40" height="7.25" fill="#d9d9d9"/>
<rect x="108.73" y="527.60" width="3.40" height="7.25" fill="#d9d9d9"/>
<rect x="108.73" y="527.60" width="3.40" height="7.25" fill="#f6999d"/>
<rect x="112.66" y="527.60" width="3.40" height="7.25" fill="#d9d9d9"/>
<rect x="116.60" y="527.60" width="3.40" height="7.25" fill="#d9d9d9"/>
<rect x="120.53" y="527.60" width="3.40" height="7.25" fill="#d9d9d9"/>
<rect x="124.47" y="527.60" width="3.40" height="7.25" fill="#d9d9d9"/>
<rect x="128.41" y="527.60" width="3.40" height="7.25" fill="#d9d9d9"/>
<rect x="132.34" y="527.60" width="3.40" height="7.25" fill="#d9d9d9"/>
<rect x="136.28" y="527.60" width="3.40" height="7.25" fill="#d9d9d9"/>
<rect x="140.21" y="527.60" width="3.40" height="7.25" fill="#d9d9d9"/>
<rect x="140.21" y="527.60" width="3.40" height="7.25" fill="#f6999d"/>
<rect x="144.14" y="527.60" width="3.40" height="7.25" fill="#d9d9d9"/>
<rect x="144.14" y="527.60" width="3.40" height="7.25" fill="#f6999d"/>
<rect x="148.08" y="527.60" width="3.40" height="7.25" fill="#d9d9d9"/>
<rect x="152.01" y="527.60" width="3.40" height="7.25" fill="#d9d9d9"/>
<rect x="155.95" y="527.60" width="3.40" height="7.25" fill="#d9d9d9"/>
<rect x="159.88" y="527.60" width="3.40" height="7.25" fill="#d9d9d9"/>
<rect x="163.82" y="527.60" width="3.40" height="7.25" fill="#d9d9d9"/>
<rect x="167.75" y="527.60" width="3.40" height="7.25" fill="#d9d9d9"/>
<rect x="171.69" y="527.60" width="3.40" height="7.25" fill="#d9d9d9"/>
<rect x="175.62" y="527.60" width="3.40" height="7.25" fill="#d9d9d9"/>
<rect x="179.56" y="527.60" width="3.40" height="7.25" fill="#d9d9d9"/>
<rect x="183.50" y="527.60" width="3.40" height="7.25" fill="#d9d9d9"/>
<rect x="183.50" y="527.60" width="3.40" height="7.25" fill="#f5ea14"/>
<rect x="187.43" y="527.60" width="3.40" height="7.25" fill="#d9d9d9"/>
<rect x="187.43" y="527.60" width="3.40" height="7.25" fill="#f6999d"/>
<rect x="191.37" y="527.60" width="3.40" height="7.25" fill="#d9d9d9"/>
<rect x="195.30" y="527.60" width="3.40" height="7.25" fill="#d9d9d9"/>
<rect x="199.24" y="527.60" width="3.40" height="7.25" fill="#d9d9d9"/>
<rect x="203.17" y="527.60" width="3.40" height="7.25" fill="#d9d9d9"/>
<rect x="207.10" y="527.60" width="3.40" height="7.25" fill="#d9d9d9"/>
<rect x="211.04" y="527.60" width="3.40" height="7.25" fill="#d9d9d9"/>
<rect x="214.97" y="527.60" width="3.40" height="7.25" fill="#d9d9d9"/>
<rect x="218.91" y="527.60" width="3.40" height="7.25" fill="#d9d9d9"/>
<rect x="222.84" y="527.60" width="3.40" height="7.25" fill="#d9d9d9"/>
<rect x="226.78" y="527.60" width="3.40" height="7.25" fill="#d9d9d9"/>
<text x="232.80" y="534.93" font-size="8.680" fill="#231f20" transform="translate(232.80 0) scale(0.8929 1) translate(-232.80 0)" stroke="#231f20" stroke-width="0.15">P2RY8</text>
<rect x="77.25" y="535.67" width="3.40" height="7.25" fill="#d9d9d9"/>
<rect x="81.19" y="535.67" width="3.40" height="7.25" fill="#d9d9d9"/>
<rect x="85.12" y="535.67" width="3.40" height="7.25" fill="#d9d9d9"/>
<rect x="89.06" y="535.67" width="3.40" height="7.25" fill="#d9d9d9"/>
<rect x="92.99" y="535.67" width="3.40" height="7.25" fill="#d9d9d9"/>
<rect x="96.92" y="535.67" width="3.40" height="7.25" fill="#d9d9d9"/>
<rect x="96.92" y="535.67" width="3.40" height="7.25" fill="#f6999d"/>
<rect x="100.86" y="535.67" width="3.40" height="7.25" fill="#d9d9d9"/>
<rect x="104.80" y="535.67" width="3.40" height="7.25" fill="#d9d9d9"/>
<rect x="108.73" y="535.67" width="3.40" height="7.25" fill="#d9d9d9"/>
<rect x="112.66" y="535.67" width="3.40" height="7.25" fill="#d9d9d9"/>
<rect x="112.66" y="535.67" width="3.40" height="3.67" fill="#08392a"/>
<rect x="112.66" y="539.30" width="3.40" height="3.62" fill="#f6999d"/>
<rect x="116.60" y="535.67" width="3.40" height="7.25" fill="#d9d9d9"/>
<rect x="116.60" y="535.67" width="3.40" height="7.25" fill="#f6999d"/>
<rect x="120.53" y="535.67" width="3.40" height="7.25" fill="#d9d9d9"/>
<rect x="124.47" y="535.67" width="3.40" height="7.25" fill="#d9d9d9"/>
<rect x="128.41" y="535.67" width="3.40" height="7.25" fill="#d9d9d9"/>
<rect x="132.34" y="535.67" width="3.40" height="7.25" fill="#d9d9d9"/>
<rect x="136.28" y="535.67" width="3.40" height="7.25" fill="#d9d9d9"/>
<rect x="140.21" y="535.67" width="3.40" height="7.25" fill="#d9d9d9"/>
<rect x="144.14" y="535.67" width="3.40" height="7.25" fill="#d9d9d9"/>
<rect x="148.08" y="535.67" width="3.40" height="7.25" fill="#d9d9d9"/>
<rect x="148.08" y="535.67" width="3.40" height="7.25" fill="#f6999d"/>
<rect x="152.01" y="535.67" width="3.40" height="7.25" fill="#d9d9d9"/>
<rect x="152.01" y="535.67" width="3.40" height="3.67" fill="#08392a"/>
<rect x="152.01" y="539.30" width="3.40" height="3.62" fill="#f6999d"/>
<rect x="155.95" y="535.67" width="3.40" height="7.25" fill="#d9d9d9"/>
<rect x="155.95" y="535.67" width="3.40" height="7.25" fill="#f6999d"/>
<rect x="159.88" y="535.67" width="3.40" height="7.25" fill="#d9d9d9"/>
<rect x="163.82" y="535.67" width="3.40" height="7.25" fill="#d9d9d9"/>
<rect x="167.75" y="535.67" width="3.40" height="7.25" fill="#d9d9d9"/>
<rect x="171.69" y="535.67" width="3.40" height="7.25" fill="#d9d9d9"/>
<rect x="175.62" y="535.67" width="3.40" height="7.25" fill="#d9d9d9"/>
<rect x="179.56" y="535.67" width="3.40" height="7.25" fill="#d9d9d9"/>
<rect x="183.50" y="535.67" width="3.40" height="7.25" fill="#d9d9d9"/>
<rect x="187.43" y="535.67" width="3.40" height="7.25" fill="#d9d9d9"/>
<rect x="191.37" y="535.67" width="3.40" height="7.25" fill="#d9d9d9"/>
<rect x="195.30" y="535.67" width="3.40" height="7.25" fill="#d9d9d9"/>
<rect x="195.30" y="535.67" width="3.40" height="7.25" fill="#f6999d"/>
<rect x="199.24" y="535.67" width="3.40" height="7.25" fill="#d9d9d9"/>
<rect x="203.17" y="535.67" width="3.40" height="7.25" fill="#d9d9d9"/>
<rect x="207.10" y="535.67" width="3.40" height="7.25" fill="#d9d9d9"/>
<rect x="211.04" y="535.67" width="3.40" height="7.25" fill="#d9d9d9"/>
<rect x="214.97" y="535.67" width="3.40" height="7.25" fill="#d9d9d9"/>
<rect x="218.91" y="535.67" width="3.40" height="7.25" fill="#d9d9d9"/>
<rect x="222.84" y="535.67" width="3.40" height="7.25" fill="#d9d9d9"/>
<rect x="226.78" y="535.67" width="3.40" height="7.25" fill="#d9d9d9"/>
<text x="232.80" y="543.00" font-size="8.680" fill="#231f20" transform="translate(232.80 0) scale(0.8929 1) translate(-232.80 0)" stroke="#231f20" stroke-width="0.15">RHOA</text>
<rect x="77.25" y="543.74" width="3.40" height="7.25" fill="#d9d9d9"/>
<rect x="77.25" y="543.74" width="3.40" height="7.25" fill="#1f78b4"/>
<rect x="81.19" y="543.74" width="3.40" height="7.25" fill="#d9d9d9"/>
<rect x="85.12" y="543.74" width="3.40" height="7.25" fill="#d9d9d9"/>
<rect x="89.06" y="543.74" width="3.40" height="7.25" fill="#d9d9d9"/>
<rect x="92.99" y="543.74" width="3.40" height="7.25" fill="#d9d9d9"/>
<rect x="96.92" y="543.74" width="3.40" height="7.25" fill="#d9d9d9"/>
<rect x="100.86" y="543.74" width="3.40" height="7.25" fill="#d9d9d9"/>
<rect x="104.80" y="543.74" width="3.40" height="7.25" fill="#d9d9d9"/>
<rect x="108.73" y="543.74" width="3.40" height="7.25" fill="#d9d9d9"/>
<rect x="112.66" y="543.74" width="3.40" height="7.25" fill="#d9d9d9"/>
<rect x="116.60" y="543.74" width="3.40" height="7.25" fill="#d9d9d9"/>
<rect x="120.53" y="543.74" width="3.40" height="7.25" fill="#d9d9d9"/>
<rect x="120.53" y="543.74" width="3.40" height="7.25" fill="#fdbf6f"/>
<rect x="124.47" y="543.74" width="3.40" height="7.25" fill="#d9d9d9"/>
<rect x="128.41" y="543.74" width="3.40" height="7.25" fill="#d9d9d9"/>
<rect x="132.34" y="543.74" width="3.40" height="7.25" fill="#d9d9d9"/>
<rect x="136.28" y="543.74" width="3.40" height="7.25" fill="#d9d9d9"/>
<rect x="140.21" y="543.74" width="3.40" height="7.25" fill="#d9d9d9"/>
<rect x="144.14" y="543.74" width="3.40" height="7.25" fill="#d9d9d9"/>
<rect x="148.08" y="543.74" width="3.40" height="7.25" fill="#d9d9d9"/>
<rect x="152.01" y="543.74" width="3.40" height="7.25" fill="#d9d9d9"/>
<rect x="155.95" y="543.74" width="3.40" height="7.25" fill="#d9d9d9"/>
<rect x="159.88" y="543.74" width="3.40" height="7.25" fill="#d9d9d9"/>
<rect x="163.82" y="543.74" width="3.40" height="7.25" fill="#d9d9d9"/>
<rect x="167.75" y="543.74" width="3.40" height="7.25" fill="#d9d9d9"/>
<rect x="167.75" y="543.74" width="3.40" height="3.67" fill="#b2df8a"/>
<rect x="167.75" y="547.37" width="3.40" height="3.62" fill="#fdbf6f"/>
<rect x="171.69" y="543.74" width="3.40" height="7.25" fill="#d9d9d9"/>
<rect x="175.62" y="543.74" width="3.40" height="7.25" fill="#d9d9d9"/>
<rect x="175.62" y="543.74" width="3.40" height="7.25" fill="#b2df8a"/>
<rect x="179.56" y="543.74" width="3.40" height="7.25" fill="#d9d9d9"/>
<rect x="183.50" y="543.74" width="3.40" height="7.25" fill="#d9d9d9"/>
<rect x="187.43" y="543.74" width="3.40" height="7.25" fill="#d9d9d9"/>
<rect x="191.37" y="543.74" width="3.40" height="7.25" fill="#d9d9d9"/>
<rect x="195.30" y="543.74" width="3.40" height="7.25" fill="#d9d9d9"/>
<rect x="199.24" y="543.74" width="3.40" height="7.25" fill="#d9d9d9"/>
<rect x="203.17" y="543.74" width="3.40" height="7.25" fill="#d9d9d9"/>
<rect x="207.10" y="543.74" width="3.40" height="7.25" fill="#d9d9d9"/>
<rect x="211.04" y="543.74" width="3.40" height="7.25" fill="#d9d9d9"/>
<rect x="214.97" y="543.74" width="3.40" height="7.25" fill="#d9d9d9"/>
<rect x="218.91" y="543.74" width="3.40" height="7.25" fill="#d9d9d9"/>
<rect x="222.84" y="543.74" width="3.40" height="7.25" fill="#d9d9d9"/>
<rect x="222.84" y="543.74" width="3.40" height="7.25" fill="#f6999d"/>
<rect x="226.78" y="543.74" width="3.40" height="7.25" fill="#d9d9d9"/>
<text x="232.80" y="551.07" font-size="8.680" fill="#231f20" transform="translate(232.80 0) scale(0.8929 1) translate(-232.80 0)" stroke="#231f20" stroke-width="0.15">GNA13</text>
<rect x="77.25" y="551.81" width="3.40" height="7.25" fill="#d9d9d9"/>
<rect x="81.19" y="551.81" width="3.40" height="7.25" fill="#d9d9d9"/>
<rect x="85.12" y="551.81" width="3.40" height="7.25" fill="#d9d9d9"/>
<rect x="89.06" y="551.81" width="3.40" height="7.25" fill="#d9d9d9"/>
<rect x="92.99" y="551.81" width="3.40" height="7.25" fill="#d9d9d9"/>
<rect x="96.92" y="551.81" width="3.40" height="7.25" fill="#d9d9d9"/>
<rect x="96.92" y="551.81" width="3.40" height="7.25" fill="#f6999d"/>
<rect x="100.86" y="551.81" width="3.40" height="7.25" fill="#d9d9d9"/>
<rect x="100.86" y="551.81" width="3.40" height="7.25" fill="#b2df8a"/>
<rect x="104.80" y="551.81" width="3.40" height="7.25" fill="#d9d9d9"/>
<rect x="108.73" y="551.81" width="3.40" height="7.25" fill="#d9d9d9"/>
<rect x="112.66" y="551.81" width="3.40" height="7.25" fill="#d9d9d9"/>
<rect x="116.60" y="551.81" width="3.40" height="7.25" fill="#d9d9d9"/>
<rect x="120.53" y="551.81" width="3.40" height="7.25" fill="#d9d9d9"/>
<rect x="124.47" y="551.81" width="3.40" height="7.25" fill="#d9d9d9"/>
<rect x="124.47" y="551.81" width="3.40" height="7.25" fill="#f6999d"/>
<rect x="128.41" y="551.81" width="3.40" height="7.25" fill="#d9d9d9"/>
<rect x="132.34" y="551.81" width="3.40" height="7.25" fill="#d9d9d9"/>
<rect x="136.28" y="551.81" width="3.40" height="7.25" fill="#d9d9d9"/>
<rect x="140.21" y="551.81" width="3.40" height="7.25" fill="#d9d9d9"/>
<rect x="144.14" y="551.81" width="3.40" height="7.25" fill="#d9d9d9"/>
<rect x="148.08" y="551.81" width="3.40" height="7.25" fill="#d9d9d9"/>
<rect x="152.01" y="551.81" width="3.40" height="7.25" fill="#d9d9d9"/>
<rect x="155.95" y="551.81" width="3.40" height="7.25" fill="#d9d9d9"/>
<rect x="159.88" y="551.81" width="3.40" height="7.25" fill="#d9d9d9"/>
<rect x="163.82" y="551.81" width="3.40" height="7.25" fill="#d9d9d9"/>
<rect x="167.75" y="551.81" width="3.40" height="7.25" fill="#d9d9d9"/>
<rect x="171.69" y="551.81" width="3.40" height="7.25" fill="#d9d9d9"/>
<rect x="175.62" y="551.81" width="3.40" height="7.25" fill="#d9d9d9"/>
<rect x="179.56" y="551.81" width="3.40" height="7.25" fill="#d9d9d9"/>
<rect x="183.50" y="551.81" width="3.40" height="7.25" fill="#d9d9d9"/>
<rect x="187.43" y="551.81" width="3.40" height="7.25" fill="#d9d9d9"/>
<rect x="191.37" y="551.81" width="3.40" height="7.25" fill="#d9d9d9"/>
<rect x="195.30" y="551.81" width="3.40" height="7.25" fill="#d9d9d9"/>
<rect x="199.24" y="551.81" width="3.40" height="7.25" fill="#d9d9d9"/>
<rect x="203.17" y="551.81" width="3.40" height="7.25" fill="#d9d9d9"/>
<rect x="207.10" y="551.81" width="3.40" height="7.25" fill="#d9d9d9"/>
<rect x="211.04" y="551.81" width="3.40" height="7.25" fill="#d9d9d9"/>
<rect x="214.97" y="551.81" width="3.40" height="7.25" fill="#d9d9d9"/>
<rect x="218.91" y="551.81" width="3.40" height="7.25" fill="#d9d9d9"/>
<rect x="222.84" y="551.81" width="3.40" height="7.25" fill="#d9d9d9"/>
<rect x="226.78" y="551.81" width="3.40" height="7.25" fill="#d9d9d9"/>
<text x="232.80" y="559.14" font-size="8.680" fill="#231f20" transform="translate(232.80 0) scale(0.8929 1) translate(-232.80 0)" stroke="#231f20" stroke-width="0.15">GNAI2</text>
<rect x="77.25" y="561.20" width="3.40" height="7.25" fill="#d9d9d9"/>
<rect x="77.25" y="561.20" width="3.40" height="7.25" fill="#f6999d"/>
<rect x="81.19" y="561.20" width="3.40" height="7.25" fill="#d9d9d9"/>
<rect x="81.19" y="561.20" width="3.40" height="7.25" fill="#f6999d"/>
<rect x="85.12" y="561.20" width="3.40" height="7.25" fill="#d9d9d9"/>
<rect x="89.06" y="561.20" width="3.40" height="7.25" fill="#d9d9d9"/>
<rect x="89.06" y="561.20" width="3.40" height="7.25" fill="#f6999d"/>
<rect x="92.99" y="561.20" width="3.40" height="7.25" fill="#d9d9d9"/>
<rect x="92.99" y="561.20" width="3.40" height="3.67" fill="#1f78b4"/>
<rect x="92.99" y="564.83" width="3.40" height="3.62" fill="#f6999d"/>
<rect x="96.92" y="561.20" width="3.40" height="7.25" fill="#d9d9d9"/>
<rect x="100.86" y="561.20" width="3.40" height="7.25" fill="#d9d9d9"/>
<rect x="100.86" y="561.20" width="3.40" height="7.25" fill="#f6999d"/>
<rect x="104.80" y="561.20" width="3.40" height="7.25" fill="#d9d9d9"/>
<rect x="104.80" y="561.20" width="3.40" height="7.25" fill="#f6999d"/>
<rect x="108.73" y="561.20" width="3.40" height="7.25" fill="#d9d9d9"/>
<rect x="108.73" y="561.20" width="3.40" height="7.25" fill="#e31a1c"/>
<rect x="112.66" y="561.20" width="3.40" height="7.25" fill="#d9d9d9"/>
<rect x="112.66" y="561.20" width="3.40" height="7.25" fill="#f6999d"/>
<rect x="116.60" y="561.20" width="3.40" height="7.25" fill="#d9d9d9"/>
<rect x="120.53" y="561.20" width="3.40" height="7.25" fill="#d9d9d9"/>
<rect x="124.47" y="561.20" width="3.40" height="7.25" fill="#d9d9d9"/>
<rect x="128.41" y="561.20" width="3.40" height="7.25" fill="#d9d9d9"/>
<rect x="132.34" y="561.20" width="3.40" height="7.25" fill="#d9d9d9"/>
<rect x="132.34" y="561.20" width="3.40" height="7.25" fill="#f6999d"/>
<rect x="136.28" y="561.20" width="3.40" height="7.25" fill="#d9d9d9"/>
<rect x="140.21" y="561.20" width="3.40" height="7.25" fill="#d9d9d9"/>
<rect x="140.21" y="561.20" width="3.40" height="7.25" fill="#f6999d"/>
<rect x="144.14" y="561.20" width="3.40" height="7.25" fill="#d9d9d9"/>
<rect x="148.08" y="561.20" width="3.40" height="7.25" fill="#d9d9d9"/>
<rect x="152.01" y="561.20" width="3.40" height="7.25" fill="#d9d9d9"/>
<rect x="155.95" y="561.20" width="3.40" height="7.25" fill="#d9d9d9"/>
<rect x="159.88" y="561.20" width="3.40" height="7.25" fill="#d9d9d9"/>
<rect x="163.82" y="561.20" width="3.40" height="7.25" fill="#d9d9d9"/>
<rect x="167.75" y="561.20" width="3.40" height="7.25" fill="#d9d9d9"/>
<rect x="167.75" y="561.20" width="3.40" height="7.25" fill="#f6999d"/>
<rect x="171.69" y="561.20" width="3.40" height="7.25" fill="#d9d9d9"/>
<rect x="171.69" y="561.20" width="3.40" height="7.25" fill="#f6999d"/>
<rect x="175.62" y="561.20" width="3.40" height="7.25" fill="#d9d9d9"/>
<rect x="179.56" y="561.20" width="3.40" height="7.25" fill="#d9d9d9"/>
<rect x="179.56" y="561.20" width="3.40" height="7.25" fill="#f6999d"/>
<rect x="183.50" y="561.20" width="3.40" height="7.25" fill="#d9d9d9"/>
<rect x="187.43" y="561.20" width="3.40" height="7.25" fill="#d9d9d9"/>
<rect x="191.37" y="561.20" width="3.40" height="7.25" fill="#d9d9d9"/>
<rect x="195.30" y="561.20" width="3.40" height="7.25" fill="#d9d9d9"/>
<rect x="199.24" y="561.20" width="3.40" height="7.25" fill="#d9d9d9"/>
<rect x="203.17" y="561.20" width="3.40" height="7.25" fill="#d9d9d9"/>
<rect x="207.10" y="561.20" width="3.40" height="7.25" fill="#d9d9d9"/>
<rect x="207.10" y="561.20" width="3.40" height="7.25" fill="#f6999d"/>
<rect x="211.04" y="561.20" width="3.40" height="7.25" fill="#d9d9d9"/>
<rect x="214.97" y="561.20" width="3.40" height="7.25" fill="#d9d9d9"/>
<rect x="214.97" y="561.20" width="3.40" height="7.25" fill="#f6999d"/>
<rect x="218.91" y="561.20" width="3.40" height="7.25" fill="#d9d9d9"/>
<rect x="222.84" y="561.20" width="3.40" height="7.25" fill="#d9d9d9"/>
<rect x="226.78" y="561.20" width="3.40" height="7.25" fill="#d9d9d9"/>
<text x="232.80" y="568.53" font-size="8.680" fill="#231f20" transform="translate(232.80 0) scale(0.8929 1) translate(-232.80 0)" stroke="#231f20" stroke-width="0.15">SMARCA4</text>
<rect x="77.25" y="569.27" width="3.40" height="7.25" fill="#d9d9d9"/>
<rect x="81.19" y="569.27" width="3.40" height="7.25" fill="#d9d9d9"/>
<rect x="85.12" y="569.27" width="3.40" height="7.25" fill="#d9d9d9"/>
<rect x="85.12" y="569.27" width="3.40" height="7.25" fill="#b15928"/>
<rect x="89.06" y="569.27" width="3.40" height="7.25" fill="#d9d9d9"/>
<rect x="89.06" y="569.27" width="3.40" height="7.25" fill="#fdbf6f"/>
<rect x="92.99" y="569.27" width="3.40" height="7.25" fill="#d9d9d9"/>
<rect x="96.92" y="569.27" width="3.40" height="7.25" fill="#d9d9d9"/>
<rect x="100.86" y="569.27" width="3.40" height="7.25" fill="#d9d9d9"/>
<rect x="104.80" y="569.27" width="3.40" height="7.25" fill="#d9d9d9"/>
<rect x="108.73" y="569.27" width="3.40" height="7.25" fill="#d9d9d9"/>
<rect x="112.66" y="569.27" width="3.40" height="7.25" fill="#d9d9d9"/>
<rect x="116.60" y="569.27" width="3.40" height="7.25" fill="#d9d9d9"/>
<rect x="120.53" y="569.27" width="3.40" height="7.25" fill="#d9d9d9"/>
<rect x="120.53" y="569.27" width="3.40" height="7.25" fill="#1f78b4"/>
<rect x="124.47" y="569.27" width="3.40" height="7.25" fill="#d9d9d9"/>
<rect x="124.47" y="569.27" width="3.40" height="7.25" fill="#fdbf6f"/>
<rect x="128.41" y="569.27" width="3.40" height="7.25" fill="#d9d9d9"/>
<rect x="128.41" y="569.27" width="3.40" height="7.25" fill="#e31a1c"/>
<rect x="132.34" y="569.27" width="3.40" height="7.25" fill="#d9d9d9"/>
<rect x="136.28" y="569.27" width="3.40" height="7.25" fill="#d9d9d9"/>
<rect x="140.21" y="569.27" width="3.40" height="7.25" fill="#d9d9d9"/>
<rect x="144.14" y="569.27" width="3.40" height="7.25" fill="#d9d9d9"/>
<rect x="144.14" y="569.27" width="3.40" height="7.25" fill="#fdbf6f"/>
<rect x="148.08" y="569.27" width="3.40" height="7.25" fill="#d9d9d9"/>
<rect x="152.01" y="569.27" width="3.40" height="7.25" fill="#d9d9d9"/>
<rect x="155.95" y="569.27" width="3.40" height="7.25" fill="#d9d9d9"/>
<rect x="155.95" y="569.27" width="3.40" height="2.47" fill="#6a3d9a"/>
<rect x="155.95" y="571.69" width="3.40" height="2.47" fill="#08392a"/>
<rect x="155.95" y="574.10" width="3.40" height="2.42" fill="#f5ea14"/>
<rect x="159.88" y="569.27" width="3.40" height="7.25" fill="#d9d9d9"/>
<rect x="159.88" y="569.27" width="3.40" height="7.25" fill="#fdbf6f"/>
<rect x="163.82" y="569.27" width="3.40" height="7.25" fill="#d9d9d9"/>
<rect x="167.75" y="569.27" width="3.40" height="7.25" fill="#d9d9d9"/>
<rect x="171.69" y="569.27" width="3.40" height="7.25" fill="#d9d9d9"/>
<rect x="175.62" y="569.27" width="3.40" height="7.25" fill="#d9d9d9"/>
<rect x="179.56" y="569.27" width="3.40" height="7.25" fill="#d9d9d9"/>
<rect x="183.50" y="569.27" width="3.40" height="7.25" fill="#d9d9d9"/>
<rect x="187.43" y="569.27" width="3.40" height="7.25" fill="#d9d9d9"/>
<rect x="191.37" y="569.27" width="3.40" height="7.25" fill="#d9d9d9"/>
<rect x="195.30" y="569.27" width="3.40" height="7.25" fill="#d9d9d9"/>
<rect x="199.24" y="569.27" width="3.40" height="7.25" fill="#d9d9d9"/>
<rect x="199.24" y="569.27" width="3.40" height="7.25" fill="#fdbf6f"/>
<rect x="203.17" y="569.27" width="3.40" height="7.25" fill="#d9d9d9"/>
<rect x="207.10" y="569.27" width="3.40" height="7.25" fill="#d9d9d9"/>
<rect x="211.04" y="569.27" width="3.40" height="7.25" fill="#d9d9d9"/>
<rect x="214.97" y="569.27" width="3.40" height="7.25" fill="#d9d9d9"/>
<rect x="218.91" y="569.27" width="3.40" height="7.25" fill="#d9d9d9"/>
<rect x="222.84" y="569.27" width="3.40" height="7.25" fill="#d9d9d9"/>
<rect x="226.78" y="569.27" width="3.40" height="7.25" fill="#d9d9d9"/>
<rect x="226.78" y="569.27" width="3.40" height="7.25" fill="#1f78b4"/>
<text x="232.80" y="576.60" font-size="8.680" fill="#231f20" transform="translate(232.80 0) scale(0.8929 1) translate(-232.80 0)" stroke="#231f20" stroke-width="0.15">ARID1A</text>
<rect x="77.25" y="577.34" width="3.40" height="7.25" fill="#d9d9d9"/>
<rect x="81.19" y="577.34" width="3.40" height="7.25" fill="#d9d9d9"/>
<rect x="85.12" y="577.34" width="3.40" height="7.25" fill="#d9d9d9"/>
<rect x="85.12" y="577.34" width="3.40" height="7.25" fill="#f6999d"/>
<rect x="89.06" y="577.34" width="3.40" height="7.25" fill="#d9d9d9"/>
<rect x="92.99" y="577.34" width="3.40" height="7.25" fill="#d9d9d9"/>
<rect x="96.92" y="577.34" width="3.40" height="7.25" fill="#d9d9d9"/>
<rect x="100.86" y="577.34" width="3.40" height="7.25" fill="#d9d9d9"/>
<rect x="104.80" y="577.34" width="3.40" height="7.25" fill="#d9d9d9"/>
<rect x="108.73" y="577.34" width="3.40" height="7.25" fill="#d9d9d9"/>
<rect x="112.66" y="577.34" width="3.40" height="7.25" fill="#d9d9d9"/>
<rect x="116.60" y="577.34" width="3.40" height="7.25" fill="#d9d9d9"/>
<rect x="120.53" y="577.34" width="3.40" height="7.25" fill="#d9d9d9"/>
<rect x="124.47" y="577.34" width="3.40" height="7.25" fill="#d9d9d9"/>
<rect x="128.41" y="577.34" width="3.40" height="7.25" fill="#d9d9d9"/>
<rect x="132.34" y="577.34" width="3.40" height="7.25" fill="#d9d9d9"/>
<rect x="136.28" y="577.34" width="3.40" height="7.25" fill="#d9d9d9"/>
<rect x="140.21" y="577.34" width="3.40" height="7.25" fill="#d9d9d9"/>
<rect x="144.14" y="577.34" width="3.40" height="7.25" fill="#d9d9d9"/>
<rect x="148.08" y="577.34" width="3.40" height="7.25" fill="#d9d9d9"/>
<rect x="152.01" y="577.34" width="3.40" height="7.25" fill="#d9d9d9"/>
<rect x="155.95" y="577.34" width="3.40" height="7.25" fill="#d9d9d9"/>
<rect x="155.95" y="577.34" width="3.40" height="7.25" fill="#f5ea14"/>
<rect x="159.88" y="577.34" width="3.40" height="7.25" fill="#d9d9d9"/>
<rect x="163.82" y="577.34" width="3.40" height="7.25" fill="#d9d9d9"/>
<rect x="167.75" y="577.34" width="3.40" height="7.25" fill="#d9d9d9"/>
<rect x="171.69" y="577.34" width="3.40" height="7.25" fill="#d9d9d9"/>
<rect x="175.62" y="577.34" width="3.40" height="7.25" fill="#d9d9d9"/>
<rect x="179.56" y="577.34" width="3.40" height="7.25" fill="#d9d9d9"/>
<rect x="183.50" y="577.34" width="3.40" height="7.25" fill="#d9d9d9"/>
<rect x="187.43" y="577.34" width="3.40" height="7.25" fill="#d9d9d9"/>
<rect x="191.37" y="577.34" width="3.40" height="7.25" fill="#d9d9d9"/>
<rect x="195.30" y="577.34" width="3.40" height="7.25" fill="#d9d9d9"/>
<rect x="195.30" y="577.34" width="3.40" height="7.25" fill="#f6999d"/>
<rect x="199.24" y="577.34" width="3.40" height="7.25" fill="#d9d9d9"/>
<rect x="203.17" y="577.34" width="3.40" height="7.25" fill="#d9d9d9"/>
<rect x="207.10" y="577.34" width="3.40" height="7.25" fill="#d9d9d9"/>
<rect x="211.04" y="577.34" width="3.40" height="7.25" fill="#d9d9d9"/>
<rect x="214.97" y="577.34" width="3.40" height="7.25" fill="#d9d9d9"/>
<rect x="218.91" y="577.34" width="3.40" height="7.25" fill="#d9d9d9"/>
<rect x="222.84" y="577.34" width="3.40" height="7.25" fill="#d9d9d9"/>
<rect x="222.84" y="577.34" width="3.40" height="7.25" fill="#f6999d"/>
<rect x="226.78" y="577.34" width="3.40" height="7.25" fill="#d9d9d9"/>
<text x="232.80" y="584.67" font-size="8.680" fill="#231f20" transform="translate(232.80 0) scale(0.8929 1) translate(-232.80 0)" stroke="#231f20" stroke-width="0.15">CHD4</text>
<rect x="77.0" y="591.10" width="153.90" height="39.80" fill="#3d3d3d"/>
<rect x="77.55" y="591.60" width="2.95" height="6.80" fill="#8a8a8a"/>
<rect x="81.48" y="591.60" width="2.95" height="6.80" fill="#8a8a8a"/>
<rect x="85.42" y="591.60" width="2.95" height="6.80" fill="#8a8a8a"/>
<rect x="89.36" y="591.60" width="2.95" height="6.80" fill="#8a8a8a"/>
<rect x="93.29" y="591.60" width="2.95" height="6.80" fill="#8a8a8a"/>
<rect x="97.22" y="591.60" width="2.95" height="6.80" fill="#8a8a8a"/>
<rect x="101.16" y="591.60" width="2.95" height="6.80" fill="#8a8a8a"/>
<rect x="105.09" y="591.60" width="2.95" height="6.80" fill="#8a8a8a"/>
<rect x="109.03" y="591.60" width="2.95" height="6.80" fill="#8a8a8a"/>
<rect x="112.96" y="591.60" width="2.95" height="6.80" fill="#8a8a8a"/>
<rect x="116.90" y="591.60" width="2.95" height="6.80" fill="#8a8a8a"/>
<rect x="120.83" y="591.60" width="2.95" height="6.80" fill="#f58220"/>
<rect x="124.77" y="591.60" width="2.95" height="6.80" fill="#ee2624"/>
<rect x="128.71" y="591.60" width="2.95" height="6.80" fill="#ee2624"/>
<rect x="132.64" y="591.60" width="2.95" height="6.80" fill="#ee2624"/>
<rect x="136.58" y="591.60" width="2.95" height="6.80" fill="#ee2624"/>
<rect x="140.51" y="591.60" width="2.95" height="6.80" fill="#8a8a8a"/>
<rect x="144.44" y="591.60" width="2.95" height="6.80" fill="#8a8a8a"/>
<rect x="148.38" y="591.60" width="2.95" height="6.80" fill="#8a8a8a"/>
<rect x="152.31" y="591.60" width="2.95" height="6.80" fill="#8a8a8a"/>
<rect x="156.25" y="591.60" width="2.95" height="6.80" fill="#8a8a8a"/>
<rect x="160.19" y="591.60" width="2.95" height="6.80" fill="#8a8a8a"/>
<rect x="164.12" y="591.60" width="2.95" height="6.80" fill="#8a8a8a"/>
<rect x="168.06" y="591.60" width="2.95" height="6.80" fill="#8a8a8a"/>
<rect x="171.99" y="591.60" width="2.95" height="6.80" fill="#8a8a8a"/>
<rect x="175.93" y="591.60" width="2.95" height="6.80" fill="#8a8a8a"/>
<rect x="179.86" y="591.60" width="2.95" height="6.80" fill="#8a8a8a"/>
<rect x="183.80" y="591.60" width="2.95" height="6.80" fill="#8a8a8a"/>
<rect x="187.73" y="591.60" width="2.95" height="6.80" fill="#8a8a8a"/>
<rect x="191.67" y="591.60" width="2.95" height="6.80" fill="#8a8a8a"/>
<rect x="195.60" y="591.60" width="2.95" height="6.80" fill="#8a8a8a"/>
<rect x="199.54" y="591.60" width="2.95" height="6.80" fill="#b9b9b9"/>
<rect x="203.47" y="591.60" width="2.95" height="6.80" fill="#f58220"/>
<rect x="207.41" y="591.60" width="2.95" height="6.80" fill="#f58220"/>
<rect x="211.34" y="591.60" width="2.95" height="6.80" fill="#ee2624"/>
<rect x="215.28" y="591.60" width="2.95" height="6.80" fill="#ee2624"/>
<rect x="219.21" y="591.60" width="2.95" height="6.80" fill="#ee2624"/>
<rect x="223.15" y="591.60" width="2.95" height="6.80" fill="#ee2624"/>
<rect x="227.08" y="591.60" width="2.95" height="6.80" fill="#ee2624"/>
<text x="233.00" y="599.09" font-size="8.344" fill="#231f20" transform="translate(233.00 0) scale(0.8929 1) translate(-233.00 0)" stroke="#231f20" stroke-width="0.15">SUBGROUP</text>
<rect x="77.55" y="599.40" width="2.95" height="6.90" fill="#8b1a35"/>
<rect x="81.48" y="599.40" width="2.95" height="6.90" fill="#8b1a35"/>
<rect x="85.42" y="599.40" width="2.95" height="6.90" fill="#8b1a35"/>
<rect x="89.36" y="599.40" width="2.95" height="6.90" fill="#8b1a35"/>
<rect x="93.29" y="599.40" width="2.95" height="6.90" fill="#8b1a35"/>
<rect x="97.22" y="599.40" width="2.95" height="6.90" fill="#f05a28"/>
<rect x="101.16" y="599.40" width="2.95" height="6.90" fill="#8b1a35"/>
<rect x="105.09" y="599.40" width="2.95" height="6.90" fill="#8b1a35"/>
<rect x="109.03" y="599.40" width="2.95" height="6.90" fill="#8b1a35"/>
<rect x="112.96" y="599.40" width="2.95" height="6.90" fill="#8b1a35"/>
<rect x="116.90" y="599.40" width="2.95" height="6.90" fill="#8b1a35"/>
<rect x="120.83" y="599.40" width="2.95" height="6.90" fill="#8b1a35"/>
<rect x="124.77" y="599.40" width="2.95" height="6.90" fill="#f05a28"/>
<rect x="128.71" y="599.40" width="2.95" height="6.90" fill="#8b1a35"/>
<rect x="132.64" y="599.40" width="2.95" height="6.90" fill="#8b1a35"/>
<rect x="136.58" y="599.40" width="2.95" height="6.90" fill="#8b1a35"/>
<rect x="140.51" y="599.40" width="2.95" height="6.90" fill="#8b1a35"/>
<rect x="144.44" y="599.40" width="2.95" height="6.90" fill="#8b1a35"/>
<rect x="148.38" y="599.40" width="2.95" height="6.90" fill="#8b1a35"/>
<rect x="152.31" y="599.40" width="2.95" height="6.90" fill="#8b1a35"/>
<rect x="156.25" y="599.40" width="2.95" height="6.90" fill="#8b1a35"/>
<rect x="160.19" y="599.40" width="2.95" height="6.90" fill="#8b1a35"/>
<rect x="164.12" y="599.40" width="2.95" height="6.90" fill="#8b1a35"/>
<rect x="168.06" y="599.40" width="2.95" height="6.90" fill="#8b1a35"/>
<rect x="171.99" y="599.40" width="2.95" height="6.90" fill="#8b1a35"/>
<rect x="175.93" y="599.40" width="2.95" height="6.90" fill="#8b1a35"/>
<rect x="179.86" y="599.40" width="2.95" height="6.90" fill="#8b1a35"/>
<rect x="183.80" y="599.40" width="2.95" height="6.90" fill="#8b1a35"/>
<rect x="187.73" y="599.40" width="2.95" height="6.90" fill="#f05a28"/>
<rect x="191.67" y="599.40" width="2.95" height="6.90" fill="#8b1a35"/>
<rect x="195.60" y="599.40" width="2.95" height="6.90" fill="#8b1a35"/>
<rect x="199.54" y="599.40" width="2.95" height="6.90" fill="#f9e79f"/>
<rect x="203.47" y="599.40" width="2.95" height="6.90" fill="#f05a28"/>
<rect x="207.41" y="599.40" width="2.95" height="6.90" fill="#8b1a35"/>
<rect x="211.34" y="599.40" width="2.95" height="6.90" fill="#8b1a35"/>
<rect x="215.28" y="599.40" width="2.95" height="6.90" fill="#8b1a35"/>
<rect x="219.21" y="599.40" width="2.95" height="6.90" fill="#8b1a35"/>
<rect x="223.15" y="599.40" width="2.95" height="6.90" fill="#f58220"/>
<rect x="227.08" y="599.40" width="2.95" height="6.90" fill="#8b1a35"/>
<text x="233.00" y="606.94" font-size="8.344" fill="#231f20" transform="translate(233.00 0) scale(0.8929 1) translate(-233.00 0)" stroke="#231f20" stroke-width="0.15">MYC.Status.Consensus</text>
<rect x="77.55" y="607.30" width="2.95" height="7.00" fill="#1c9444"/>
<rect x="81.48" y="607.30" width="2.95" height="7.00" fill="#1c9444"/>
<rect x="85.42" y="607.30" width="2.95" height="7.00" fill="#ffffff"/>
<rect x="89.36" y="607.30" width="2.95" height="7.00" fill="#1c9444"/>
<rect x="93.29" y="607.30" width="2.95" height="7.00" fill="#ffffff"/>
<rect x="97.22" y="607.30" width="2.95" height="7.00" fill="#1c9444"/>
<rect x="101.16" y="607.30" width="2.95" height="7.00" fill="#9b9b9b"/>
<rect x="105.09" y="607.30" width="2.95" height="7.00" fill="#ffffff"/>
<rect x="109.03" y="607.30" width="2.95" height="7.00" fill="#1c9444"/>
<rect x="112.96" y="607.30" width="2.95" height="7.00" fill="#9b9b9b"/>
<rect x="116.90" y="607.30" width="2.95" height="7.00" fill="#9b9b9b"/>
<rect x="120.83" y="607.30" width="2.95" height="7.00" fill="#ffffff"/>
<rect x="124.77" y="607.30" width="2.95" height="7.00" fill="#1c9444"/>
<rect x="128.71" y="607.30" width="2.95" height="7.00" fill="#ffffff"/>
<rect x="132.64" y="607.30" width="2.95" height="7.00" fill="#ffffff"/>
<rect x="136.58" y="607.30" width="2.95" height="7.00" fill="#1c9444"/>
<rect x="140.51" y="607.30" width="2.95" height="7.00" fill="#1c9444"/>
<rect x="144.44" y="607.30" width="2.95" height="7.00" fill="#1c9444"/>
<rect x="148.38" y="607.30" width="2.95" height="7.00" fill="#1c9444"/>
<rect x="152.31" y="607.30" width="2.95" height="7.00" fill="#1c9444"/>
<rect x="156.25" y="607.30" width="2.95" height="7.00" fill="#1c9444"/>
<rect x="160.19" y="607.30" width="2.95" height="7.00" fill="#1c9444"/>
<rect x="164.12" y="607.30" width="2.95" height="7.00" fill="#ffffff"/>
<rect x="168.06" y="607.30" width="2.95" height="7.00" fill="#ffffff"/>
<rect x="171.99" y="607.30" width="2.95" height="7.00" fill="#1c9444"/>
<rect x="175.93" y="607.30" width="2.95" height="7.00" fill="#ffffff"/>
<rect x="179.86" y="607.30" width="2.95" height="7.00" fill="#ffffff"/>
<rect x="183.80" y="607.30" width="2.95" height="7.00" fill="#1c9444"/>
<rect x="187.73" y="607.30" width="2.95" height="7.00" fill="#1c9444"/>
<rect x="191.67" y="607.30" width="2.95" height="7.00" fill="#1c9444"/>
<rect x="195.60" y="607.30" width="2.95" height="7.00" fill="#9b9b9b"/>
<rect x="199.54" y="607.30" width="2.95" height="7.00" fill="#1c9444"/>
<rect x="203.47" y="607.30" width="2.95" height="7.00" fill="#ffffff"/>
<rect x="207.41" y="607.30" width="2.95" height="7.00" fill="#ffffff"/>
<rect x="211.34" y="607.30" width="2.95" height="7.00" fill="#ffffff"/>
<rect x="215.28" y="607.30" width="2.95" height="7.00" fill="#ffffff"/>
<rect x="219.21" y="607.30" width="2.95" height="7.00" fill="#ffffff"/>
<rect x="223.15" y="607.30" width="2.95" height="7.00" fill="#1c9444"/>
<rect x="227.08" y="607.30" width="2.95" height="7.00" fill="#ffffff"/>
<text x="233.00" y="614.89" font-size="8.344" fill="#231f20" transform="translate(233.00 0) scale(0.8929 1) translate(-233.00 0)" stroke="#231f20" stroke-width="0.15">MUM1expression</text>
<rect x="77.55" y="615.30" width="2.95" height="7.00" fill="#9b9b9b"/>
<rect x="81.48" y="615.30" width="2.95" height="7.00" fill="#9b9b9b"/>
<rect x="85.42" y="615.30" width="2.95" height="7.00" fill="#ffffff"/>
<rect x="89.36" y="615.30" width="2.95" height="7.00" fill="#9b9b9b"/>
<rect x="93.29" y="615.30" width="2.95" height="7.00" fill="#ffffff"/>
<rect x="97.22" y="615.30" width="2.95" height="7.00" fill="#9b9b9b"/>
<rect x="101.16" y="615.30" width="2.95" height="7.00" fill="#9b9b9b"/>
<rect x="105.09" y="615.30" width="2.95" height="7.00" fill="#ffffff"/>
<rect x="109.03" y="615.30" width="2.95" height="7.00" fill="#9b9b9b"/>
<rect x="112.96" y="615.30" width="2.95" height="7.00" fill="#9b9b9b"/>
<rect x="116.90" y="615.30" width="2.95" height="7.00" fill="#9b9b9b"/>
<rect x="120.83" y="615.30" width="2.95" height="7.00" fill="#ffffff"/>
<rect x="124.77" y="615.30" width="2.95" height="7.00" fill="#1c9444"/>
<rect x="128.71" y="615.30" width="2.95" height="7.00" fill="#ffffff"/>
<rect x="132.64" y="615.30" width="2.95" height="7.00" fill="#ffffff"/>
<rect x="136.58" y="615.30" width="2.95" height="7.00" fill="#1c9444"/>
<rect x="140.51" y="615.30" width="2.95" height="7.00" fill="#9b9b9b"/>
<rect x="144.44" y="615.30" width="2.95" height="7.00" fill="#9b9b9b"/>
<rect x="148.38" y="615.30" width="2.95" height="7.00" fill="#9b9b9b"/>
<rect x="152.31" y="615.30" width="2.95" height="7.00" fill="#9b9b9b"/>
<rect x="156.25" y="615.30" width="2.95" height="7.00" fill="#9b9b9b"/>
<rect x="160.19" y="615.30" width="2.95" height="7.00" fill="#9b9b9b"/>
<rect x="164.12" y="615.30" width="2.95" height="7.00" fill="#ffffff"/>
<rect x="168.06" y="615.30" width="2.95" height="7.00" fill="#ffffff"/>
<rect x="171.99" y="615.30" width="2.95" height="7.00" fill="#9b9b9b"/>
<rect x="175.93" y="615.30" width="2.95" height="7.00" fill="#ffffff"/>
<rect x="179.86" y="615.30" width="2.95" height="7.00" fill="#ffffff"/>
<rect x="183.80" y="615.30" width="2.95" height="7.00" fill="#1c9444"/>
<rect x="187.73" y="615.30" width="2.95" height="7.00" fill="#1c9444"/>
<rect x="191.67" y="615.30" width="2.95" height="7.00" fill="#1c9444"/>
<rect x="195.60" y="615.30" width="2.95" height="7.00" fill="#9b9b9b"/>
<rect x="199.54" y="615.30" width="2.95" height="7.00" fill="#9b9b9b"/>
<rect x="203.47" y="615.30" width="2.95" height="7.00" fill="#ffffff"/>
<rect x="207.41" y="615.30" width="2.95" height="7.00" fill="#ffffff"/>
<rect x="211.34" y="615.30" width="2.95" height="7.00" fill="#ffffff"/>
<rect x="215.28" y="615.30" width="2.95" height="7.00" fill="#ffffff"/>
<rect x="219.21" y="615.30" width="2.95" height="7.00" fill="#ffffff"/>
<rect x="223.15" y="615.30" width="2.95" height="7.00" fill="#9b9b9b"/>
<rect x="227.08" y="615.30" width="2.95" height="7.00" fill="#ffffff"/>
<text x="233.00" y="622.89" font-size="8.344" fill="#231f20" transform="translate(233.00 0) scale(0.8929 1) translate(-233.00 0)" stroke="#231f20" stroke-width="0.15">BCL2expression</text>
<rect x="77.55" y="623.30" width="2.95" height="7.10" fill="#1c9444"/>
<rect x="81.48" y="623.30" width="2.95" height="7.10" fill="#9b9b9b"/>
<rect x="85.42" y="623.30" width="2.95" height="7.10" fill="#ffffff"/>
<rect x="89.36" y="623.30" width="2.95" height="7.10" fill="#1c9444"/>
<rect x="93.29" y="623.30" width="2.95" height="7.10" fill="#ffffff"/>
<rect x="97.22" y="623.30" width="2.95" height="7.10" fill="#9b9b9b"/>
<rect x="101.16" y="623.30" width="2.95" height="7.10" fill="#9b9b9b"/>
<rect x="105.09" y="623.30" width="2.95" height="7.10" fill="#ffffff"/>
<rect x="109.03" y="623.30" width="2.95" height="7.10" fill="#1c9444"/>
<rect x="112.96" y="623.30" width="2.95" height="7.10" fill="#1c9444"/>
<rect x="116.90" y="623.30" width="2.95" height="7.10" fill="#1c9444"/>
<rect x="120.83" y="623.30" width="2.95" height="7.10" fill="#ffffff"/>
<rect x="124.77" y="623.30" width="2.95" height="7.10" fill="#9b9b9b"/>
<rect x="128.71" y="623.30" width="2.95" height="7.10" fill="#ffffff"/>
<rect x="132.64" y="623.30" width="2.95" height="7.10" fill="#ffffff"/>
<rect x="136.58" y="623.30" width="2.95" height="7.10" fill="#9b9b9b"/>
<rect x="140.51" y="623.30" width="2.95" height="7.10" fill="#1c9444"/>
<rect x="144.44" y="623.30" width="2.95" height="7.10" fill="#1c9444"/>
<rect x="148.38" y="623.30" width="2.95" height="7.10" fill="#1c9444"/>
<rect x="152.31" y="623.30" width="2.95" height="7.10" fill="#1c9444"/>
<rect x="156.25" y="623.30" width="2.95" height="7.10" fill="#1c9444"/>
<rect x="160.19" y="623.30" width="2.95" height="7.10" fill="#1c9444"/>
<rect x="164.12" y="623.30" width="2.95" height="7.10" fill="#ffffff"/>
<rect x="168.06" y="623.30" width="2.95" height="7.10" fill="#ffffff"/>
<rect x="171.99" y="623.30" width="2.95" height="7.10" fill="#9b9b9b"/>
<rect x="175.93" y="623.30" width="2.95" height="7.10" fill="#ffffff"/>
<rect x="179.86" y="623.30" width="2.95" height="7.10" fill="#ffffff"/>
<rect x="183.80" y="623.30" width="2.95" height="7.10" fill="#9b9b9b"/>
<rect x="187.73" y="623.30" width="2.95" height="7.10" fill="#9b9b9b"/>
<rect x="191.67" y="623.30" width="2.95" height="7.10" fill="#9b9b9b"/>
<rect x="195.60" y="623.30" width="2.95" height="7.10" fill="#1c9444"/>
<rect x="199.54" y="623.30" width="2.95" height="7.10" fill="#9b9b9b"/>
<rect x="203.47" y="623.30" width="2.95" height="7.10" fill="#ffffff"/>
<rect x="207.41" y="623.30" width="2.95" height="7.10" fill="#ffffff"/>
<rect x="211.34" y="623.30" width="2.95" height="7.10" fill="#ffffff"/>
<rect x="215.28" y="623.30" width="2.95" height="7.10" fill="#ffffff"/>
<rect x="219.21" y="623.30" width="2.95" height="7.10" fill="#ffffff"/>
<rect x="223.15" y="623.30" width="2.95" height="7.10" fill="#9b9b9b"/>
<rect x="227.08" y="623.30" width="2.95" height="7.10" fill="#ffffff"/>
<text x="233.00" y="630.94" font-size="8.344" fill="#231f20" transform="translate(233.00 0) scale(0.8929 1) translate(-233.00 0)" stroke="#231f20" stroke-width="0.15">SOX11expression</text>
<path d="M76.4,421.20 H73.5 V475.90 H76.4" fill="none" stroke="#111" stroke-width="1.0"/>
<path d="M76.4,478.40 H73.5 V524.60 H76.4" fill="none" stroke="#111" stroke-width="1.0"/>
<path d="M76.4,528.00 H73.5 V557.40 H76.4" fill="none" stroke="#111" stroke-width="1.0"/>
<path d="M76.4,561.50 H73.5 V584.60 H76.4" fill="none" stroke="#111" stroke-width="1.0"/>
<text x="32.60" y="446.03" font-size="8.190" fill="#231f20" transform="translate(32.60 0) scale(0.8547 1) translate(-32.60 0)" stroke="#231f20" stroke-width="0.15">Proliferation</text>
<text x="32.60" y="455.63" font-size="8.190" fill="#231f20" transform="translate(32.60 0) scale(0.8547 1) translate(-32.60 0)" stroke="#231f20" stroke-width="0.15">&amp; Survival</text>
<text x="70.20" y="504.60" font-size="8.658" text-anchor="end" fill="#231f20" transform="translate(70.20 0) scale(0.8547 1) translate(-70.20 0)" stroke="#231f20" stroke-width="0.15">BCR signaling</text>
<text x="70.20" y="541.90" font-size="8.658" text-anchor="end" fill="#231f20" transform="translate(70.20 0) scale(0.8547 1) translate(-70.20 0)" stroke="#231f20" stroke-width="0.15">Sphingosine/GPCR</text>
<text x="70.20" y="551.52" font-size="8.424" text-anchor="end" fill="#231f20" transform="translate(70.20 0) scale(0.8547 1) translate(-70.20 0)" stroke="#231f20" stroke-width="0.15">signaling</text>
<text x="38.80" y="571.88" font-size="8.599" fill="#231f20" transform="translate(38.80 0) scale(0.8547 1) translate(-38.80 0)" stroke="#231f20" stroke-width="0.15">SWI/SNF</text>
<text x="38.80" y="581.52" font-size="8.424" fill="#231f20" transform="translate(38.80 0) scale(0.8547 1) translate(-38.80 0)" stroke="#231f20" stroke-width="0.15">complex</text>
<text x="318.00" y="436.37" font-size="7.728" fill="#231f20" transform="translate(318.00 0) scale(0.8929 1) translate(-318.00 0)" stroke="#231f20" stroke-width="0.15">Alterations</text>
<rect x="318.00" y="438.90" width="5.80" height="6.00" fill="#a6cee3"/>
<text x="326.00" y="444.63" font-size="7.616" fill="#231f20" transform="translate(326.00 0) scale(0.8929 1) translate(-326.00 0)" stroke="#231f20" stroke-width="0.15">Frameshift deletion</text>
<rect x="318.00" y="445.30" width="5.80" height="6.00" fill="#1f78b4"/>
<text x="326.00" y="451.03" font-size="7.616" fill="#231f20" transform="translate(326.00 0) scale(0.8929 1) translate(-326.00 0)" stroke="#231f20" stroke-width="0.15">Frameshift insertion</text>
<rect x="318.00" y="451.70" width="5.80" height="6.00" fill="#b2df8a"/>
<text x="326.00" y="457.43" font-size="7.616" fill="#231f20" transform="translate(326.00 0) scale(0.8929 1) translate(-326.00 0)" stroke="#231f20" stroke-width="0.15">Nonframeshift deletion</text>
<rect x="318.00" y="458.10" width="5.80" height="6.00" fill="#33a02c"/>
<text x="326.00" y="463.83" font-size="7.616" fill="#231f20" transform="translate(326.00 0) scale(0.8929 1) translate(-326.00 0)" stroke="#231f20" stroke-width="0.15">Nonframeshift insertion</text>
<rect x="318.00" y="464.50" width="5.80" height="6.00" fill="#fdbf6f"/>
<text x="326.00" y="470.23" font-size="7.616" fill="#231f20" transform="translate(326.00 0) scale(0.8929 1) translate(-326.00 0)" stroke="#231f20" stroke-width="0.15">Stopgain</text>
<rect x="318.00" y="470.90" width="5.80" height="6.00" fill="#e31a1c"/>
<text x="326.00" y="476.63" font-size="7.616" fill="#231f20" transform="translate(326.00 0) scale(0.8929 1) translate(-326.00 0)" stroke="#231f20" stroke-width="0.15">Splicing</text>
<rect x="318.00" y="477.30" width="5.80" height="6.00" fill="#ff7f00"/>
<text x="326.00" y="483.03" font-size="7.616" fill="#231f20" transform="translate(326.00 0) scale(0.8929 1) translate(-326.00 0)" stroke="#231f20" stroke-width="0.15">Stoploss</text>
<rect x="318.00" y="483.70" width="5.80" height="6.00" fill="#f6999d"/>
<text x="326.00" y="489.43" font-size="7.616" fill="#231f20" transform="translate(326.00 0) scale(0.8929 1) translate(-326.00 0)" stroke="#231f20" stroke-width="0.15">Nonsynonymous SNV</text>
<rect x="318.00" y="490.10" width="5.80" height="6.00" fill="#6a3d9a"/>
<text x="326.00" y="495.83" font-size="7.616" fill="#231f20" transform="translate(326.00 0) scale(0.8929 1) translate(-326.00 0)" stroke="#231f20" stroke-width="0.15">TRA</text>
<rect x="318.00" y="496.50" width="5.80" height="6.00" fill="#cab2d6"/>
<text x="326.00" y="502.23" font-size="7.616" fill="#231f20" transform="translate(326.00 0) scale(0.8929 1) translate(-326.00 0)" stroke="#231f20" stroke-width="0.15">INV</text>
<rect x="318.00" y="502.90" width="5.80" height="6.00" fill="#b15928"/>
<text x="326.00" y="508.63" font-size="7.616" fill="#231f20" transform="translate(326.00 0) scale(0.8929 1) translate(-326.00 0)" stroke="#231f20" stroke-width="0.15">DUP</text>
<rect x="318.00" y="509.30" width="5.80" height="6.00" fill="#f5ea14"/>
<text x="326.00" y="515.03" font-size="7.616" fill="#231f20" transform="translate(326.00 0) scale(0.8929 1) translate(-326.00 0)" stroke="#231f20" stroke-width="0.15">DEL</text>
<rect x="318.00" y="515.70" width="5.80" height="6.00" fill="#08392a"/>
<text x="326.00" y="521.43" font-size="7.616" fill="#231f20" transform="translate(326.00 0) scale(0.8929 1) translate(-326.00 0)" stroke="#231f20" stroke-width="0.15">LOH</text>
<rect x="318.00" y="522.10" width="5.80" height="6.00" fill="#111111"/>
<text x="326.00" y="527.83" font-size="7.616" fill="#231f20" transform="translate(326.00 0) scale(0.8929 1) translate(-326.00 0)" stroke="#231f20" stroke-width="0.15">HomoDel</text>
<rect x="318.00" y="528.50" width="5.80" height="6.00" fill="#27358f"/>
<text x="326.00" y="534.23" font-size="7.616" fill="#231f20" transform="translate(326.00 0) scale(0.8929 1) translate(-326.00 0)" stroke="#231f20" stroke-width="0.15">ncRNA_exonic</text>
<text x="401.80" y="435.97" font-size="7.728" fill="#231f20" transform="translate(401.80 0) scale(0.8929 1) translate(-401.80 0)" stroke="#231f20" stroke-width="0.15">SUBGROUP</text>
<rect x="401.80" y="438.85" width="6.10" height="5.50" fill="#808080"/>
<text x="409.80" y="444.41" font-size="7.840" fill="#231f20" transform="translate(409.80 0) scale(0.8929 1) translate(-409.80 0)" stroke="#231f20" stroke-width="0.15">BL_solid</text>
<rect x="401.80" y="445.35" width="6.10" height="5.50" fill="#e31a1c"/>
<text x="409.80" y="450.91" font-size="7.840" fill="#231f20" transform="translate(409.80 0) scale(0.8929 1) translate(-409.80 0)" stroke="#231f20" stroke-width="0.15">BL_leukemia</text>
<rect x="401.80" y="452.45" width="6.10" height="5.50" fill="#f58220"/>
<text x="409.80" y="458.01" font-size="7.840" fill="#231f20" transform="translate(409.80 0) scale(0.8929 1) translate(-409.80 0)" stroke="#231f20" stroke-width="0.15">BL_pleura</text>
<text x="401.80" y="467.77" font-size="7.728" fill="#231f20" transform="translate(401.80 0) scale(0.8929 1) translate(-401.80 0)" stroke="#231f20" stroke-width="0.15">MYC.Status.Consensus</text>
<rect x="401.80" y="470.45" width="6.10" height="5.50" fill="#7b1230"/>
<text x="409.80" y="476.01" font-size="7.840" fill="#231f20" transform="translate(409.80 0) scale(0.8929 1) translate(-409.80 0)" stroke="#231f20" stroke-width="0.15">IGH–MYC pos</text>
<rect x="401.80" y="477.15" width="6.10" height="5.50" fill="#ee5a24"/>
<text x="409.80" y="482.71" font-size="7.840" fill="#231f20" transform="translate(409.80 0) scale(0.8929 1) translate(-409.80 0)" stroke="#231f20" stroke-width="0.15">IGL–MYC pos</text>
<rect x="401.80" y="484.15" width="6.10" height="5.50" fill="#f9e79f"/>
<text x="409.80" y="489.71" font-size="7.840" fill="#231f20" transform="translate(409.80 0) scale(0.8929 1) translate(-409.80 0)" stroke="#231f20" stroke-width="0.15">IGK–MYC pos</text>
<text x="401.80" y="501.07" font-size="7.728" fill="#231f20" transform="translate(401.80 0) scale(0.8929 1) translate(-401.80 0)" stroke="#231f20" stroke-width="0.15">MUM1expression</text>
<rect x="401.80" y="503.65" width="6.10" height="5.50" fill="#1c9444"/>
<text x="409.80" y="509.21" font-size="7.840" fill="#231f20" transform="translate(409.80 0) scale(0.8929 1) translate(-409.80 0)" stroke="#231f20" stroke-width="0.15">Positive</text>
<rect x="401.80" y="509.75" width="6.10" height="5.50" fill="#9b9b9b"/>
<text x="409.80" y="515.31" font-size="7.840" fill="#231f20" transform="translate(409.80 0) scale(0.8929 1) translate(-409.80 0)" stroke="#231f20" stroke-width="0.15">Negative</text>
<text x="447.00" y="509.21" font-size="7.840" fill="#231f20" transform="translate(447.00 0) scale(0.8929 1) translate(-447.00 0)" stroke="#231f20" stroke-width="0.15">n.a.</text>
<text x="401.80" y="525.07" font-size="7.728" fill="#231f20" transform="translate(401.80 0) scale(0.8929 1) translate(-401.80 0)" stroke="#231f20" stroke-width="0.15">BCL2expression</text>
<rect x="401.80" y="527.65" width="6.10" height="5.50" fill="#1c9444"/>
<text x="409.80" y="533.21" font-size="7.840" fill="#231f20" transform="translate(409.80 0) scale(0.8929 1) translate(-409.80 0)" stroke="#231f20" stroke-width="0.15">Positive</text>
<rect x="401.80" y="533.75" width="6.10" height="5.50" fill="#9b9b9b"/>
<text x="409.80" y="539.31" font-size="7.840" fill="#231f20" transform="translate(409.80 0) scale(0.8929 1) translate(-409.80 0)" stroke="#231f20" stroke-width="0.15">Negative</text>
<text x="447.00" y="533.21" font-size="7.840" fill="#231f20" transform="translate(447.00 0) scale(0.8929 1) translate(-447.00 0)" stroke="#231f20" stroke-width="0.15">n.a.</text>
<text x="401.80" y="549.37" font-size="7.728" fill="#231f20" transform="translate(401.80 0) scale(0.8929 1) translate(-401.80 0)" stroke="#231f20" stroke-width="0.15">SOX11expression</text>
<rect x="401.80" y="551.95" width="6.10" height="5.50" fill="#1c9444"/>
<text x="409.80" y="557.51" font-size="7.840" fill="#231f20" transform="translate(409.80 0) scale(0.8929 1) translate(-409.80 0)" stroke="#231f20" stroke-width="0.15">Positive</text>
<rect x="401.80" y="558.05" width="6.10" height="5.50" fill="#9b9b9b"/>
<text x="409.80" y="563.61" font-size="7.840" fill="#231f20" transform="translate(409.80 0) scale(0.8929 1) translate(-409.80 0)" stroke="#231f20" stroke-width="0.15">Negative</text>
<text x="447.00" y="557.51" font-size="7.840" fill="#231f20" transform="translate(447.00 0) scale(0.8929 1) translate(-447.00 0)" stroke="#231f20" stroke-width="0.15">n.a.</text>
<rect x="0.5" y="0.5" width="519" height="638" fill="none" stroke="#1a1414" stroke-width="1.1"/>
</svg>
</body></html>
